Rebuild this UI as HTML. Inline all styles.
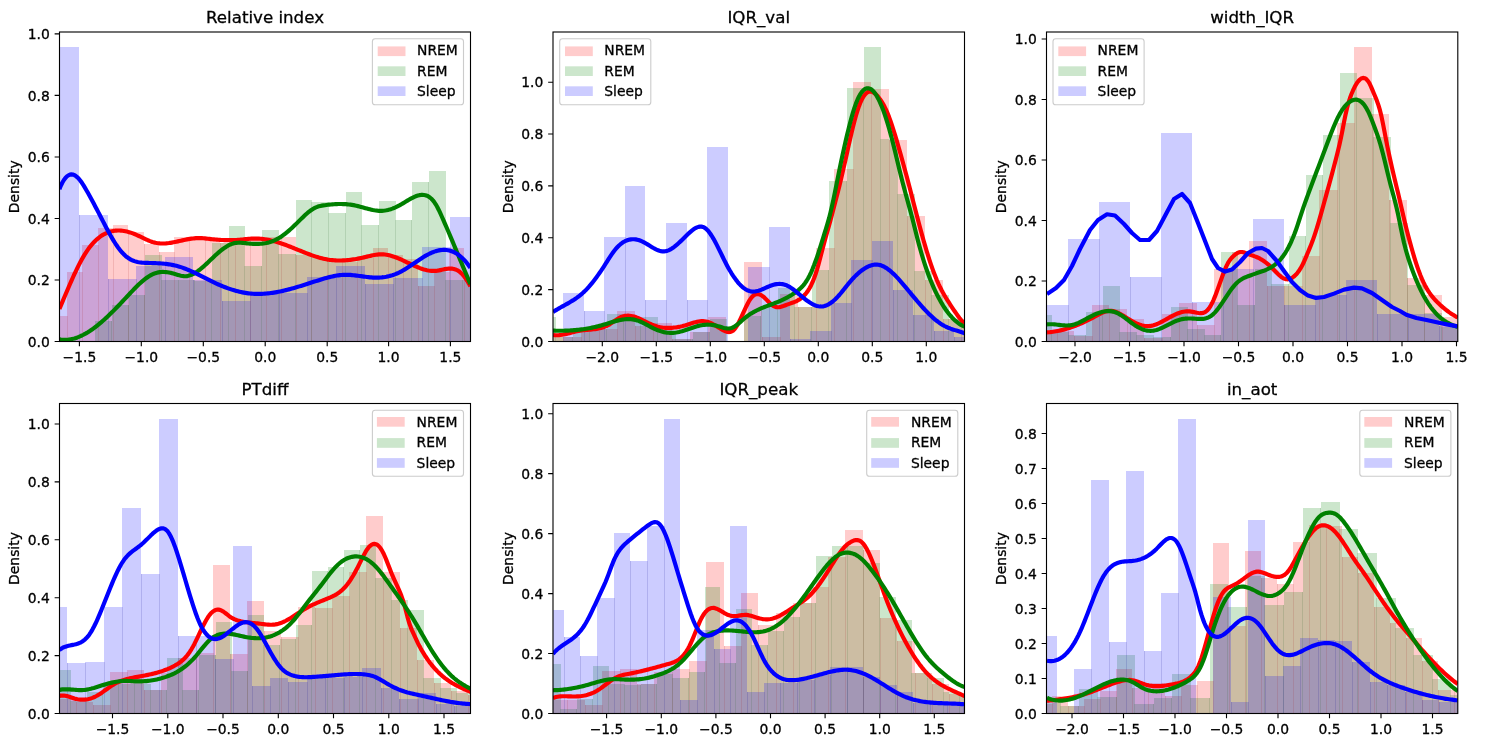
<!DOCTYPE html>
<html><head><meta charset="utf-8"><title>Density plots</title>
<style>html,body{margin:0;padding:0;background:#fff}svg{display:block}text{font-family:"DejaVu Sans","Liberation Sans",sans-serif;fill:#000;stroke:#000;stroke-width:0.3px}</style>
</head><body>
<svg width="1495" height="751" viewBox="0 0 1495 751">
<rect width="1495" height="751" fill="#fff"/>
<clipPath id="c1"><rect x="59.5" y="32" width="411" height="309.5"/></clipPath>
<g clip-path="url(#c1)">
<g fill="#ff0000" fill-opacity="0.2">
<rect x="52" y="316" width="15" height="27.5"/>
<rect x="67" y="272" width="15" height="71.5"/>
<rect x="82" y="245" width="16" height="98.5"/>
<rect x="98" y="228" width="15" height="115.5"/>
<rect x="113" y="225" width="15" height="118.5"/>
<rect x="128" y="232" width="16" height="111.5"/>
<rect x="144" y="244" width="15" height="99.5"/>
<rect x="159" y="252" width="15" height="91.5"/>
<rect x="174" y="237" width="15" height="106.5"/>
<rect x="189" y="237" width="16" height="106.5"/>
<rect x="205" y="240" width="15" height="103.5"/>
<rect x="220" y="243" width="15" height="100.5"/>
<rect x="235" y="238" width="15" height="105.5"/>
<rect x="250" y="240" width="16" height="103.5"/>
<rect x="266" y="237" width="15" height="106.5"/>
<rect x="281" y="237" width="15" height="106.5"/>
<rect x="296" y="255" width="15" height="88.5"/>
<rect x="311" y="257" width="16" height="86.5"/>
<rect x="327" y="261" width="15" height="82.5"/>
<rect x="342" y="262" width="15" height="81.5"/>
<rect x="357" y="258" width="16" height="85.5"/>
<rect x="373" y="248" width="15" height="95.5"/>
<rect x="388" y="255" width="15" height="88.5"/>
<rect x="403" y="259" width="15" height="84.5"/>
<rect x="418" y="286" width="16" height="57.5"/>
<rect x="434" y="272" width="15" height="71.5"/>
<rect x="449" y="248" width="15" height="95.5"/>
<rect x="464" y="280" width="15" height="63.5"/>
</g>
<g fill="#008000" fill-opacity="0.2">
<rect x="95" y="321" width="17" height="22.5"/>
<rect x="112" y="305" width="17" height="38.5"/>
<rect x="129" y="295" width="16" height="48.5"/>
<rect x="145" y="255" width="17" height="88.5"/>
<rect x="162" y="280" width="17" height="63.5"/>
<rect x="179" y="280" width="16" height="63.5"/>
<rect x="195" y="281" width="17" height="62.5"/>
<rect x="212" y="243" width="17" height="100.5"/>
<rect x="229" y="226" width="16" height="117.5"/>
<rect x="245" y="266" width="17" height="77.5"/>
<rect x="262" y="230" width="17" height="113.5"/>
<rect x="279" y="254" width="17" height="89.5"/>
<rect x="296" y="200" width="16" height="143.5"/>
<rect x="312" y="202" width="17" height="141.5"/>
<rect x="329" y="213" width="17" height="130.5"/>
<rect x="346" y="192" width="16" height="151.5"/>
<rect x="362" y="225" width="17" height="118.5"/>
<rect x="379" y="201" width="17" height="142.5"/>
<rect x="396" y="220" width="16" height="123.5"/>
<rect x="412" y="182" width="17" height="161.5"/>
<rect x="429" y="171" width="17" height="172.5"/>
<rect x="446" y="280" width="17" height="63.5"/>
<rect x="463" y="280" width="16" height="63.5"/>
</g>
<g fill="#0000ff" fill-opacity="0.2">
<rect x="51" y="47" width="28" height="296.5"/>
<rect x="79" y="215" width="29" height="128.5"/>
<rect x="108" y="279" width="28" height="64.5"/>
<rect x="136" y="266" width="29" height="77.5"/>
<rect x="165" y="257" width="28" height="86.5"/>
<rect x="193" y="280" width="29" height="63.5"/>
<rect x="222" y="301" width="28" height="42.5"/>
<rect x="250" y="293" width="29" height="50.5"/>
<rect x="279" y="293" width="28" height="50.5"/>
<rect x="307" y="277" width="29" height="66.5"/>
<rect x="336" y="266" width="29" height="77.5"/>
<rect x="365" y="284" width="28" height="59.5"/>
<rect x="393" y="278" width="29" height="65.5"/>
<rect x="422" y="247" width="28" height="96.5"/>
<rect x="450" y="217" width="29" height="126.5"/>
</g>
<g fill="#a62626" fill-opacity="0.15"><rect x="67" y="316" width="1" height="27.5"/><rect x="82" y="272" width="1" height="71.5"/><rect x="98" y="245" width="1" height="98.5"/><rect x="113" y="228" width="1" height="115.5"/><rect x="128" y="232" width="1" height="111.5"/><rect x="144" y="244" width="1" height="99.5"/><rect x="159" y="252" width="1" height="91.5"/><rect x="174" y="252" width="1" height="91.5"/><rect x="189" y="237" width="1" height="106.5"/><rect x="205" y="240" width="1" height="103.5"/><rect x="220" y="243" width="1" height="100.5"/><rect x="235" y="243" width="1" height="100.5"/><rect x="250" y="240" width="1" height="103.5"/><rect x="266" y="240" width="1" height="103.5"/><rect x="281" y="237" width="1" height="106.5"/><rect x="296" y="255" width="1" height="88.5"/><rect x="311" y="257" width="1" height="86.5"/><rect x="327" y="261" width="1" height="82.5"/><rect x="342" y="262" width="1" height="81.5"/><rect x="357" y="262" width="1" height="81.5"/><rect x="373" y="258" width="1" height="85.5"/><rect x="388" y="255" width="1" height="88.5"/><rect x="403" y="259" width="1" height="84.5"/><rect x="418" y="286" width="1" height="57.5"/><rect x="434" y="286" width="1" height="57.5"/><rect x="449" y="272" width="1" height="71.5"/><rect x="464" y="280" width="1" height="63.5"/></g>
<g fill="#256525" fill-opacity="0.15"><rect x="111" y="321" width="1" height="22.5"/><rect x="128" y="305" width="1" height="38.5"/><rect x="144" y="295" width="1" height="48.5"/><rect x="161" y="280" width="1" height="63.5"/><rect x="178" y="280" width="1" height="63.5"/><rect x="194" y="281" width="1" height="62.5"/><rect x="211" y="281" width="1" height="62.5"/><rect x="228" y="243" width="1" height="100.5"/><rect x="244" y="266" width="1" height="77.5"/><rect x="261" y="266" width="1" height="77.5"/><rect x="278" y="254" width="1" height="89.5"/><rect x="295" y="254" width="1" height="89.5"/><rect x="311" y="202" width="1" height="141.5"/><rect x="328" y="213" width="1" height="130.5"/><rect x="345" y="213" width="1" height="130.5"/><rect x="361" y="225" width="1" height="118.5"/><rect x="378" y="225" width="1" height="118.5"/><rect x="395" y="220" width="1" height="123.5"/><rect x="411" y="220" width="1" height="123.5"/><rect x="428" y="182" width="1" height="161.5"/><rect x="445" y="280" width="1" height="63.5"/><rect x="462" y="280" width="1" height="63.5"/></g>
<g fill="#0f0f8e" fill-opacity="0.15"><rect x="79" y="215" width="1" height="128.5"/><rect x="108" y="279" width="1" height="64.5"/><rect x="136" y="279" width="1" height="64.5"/><rect x="165" y="266" width="1" height="77.5"/><rect x="193" y="280" width="1" height="63.5"/><rect x="222" y="301" width="1" height="42.5"/><rect x="250" y="301" width="1" height="42.5"/><rect x="279" y="293" width="1" height="50.5"/><rect x="307" y="293" width="1" height="50.5"/><rect x="336" y="277" width="1" height="66.5"/><rect x="365" y="284" width="1" height="59.5"/><rect x="393" y="284" width="1" height="59.5"/><rect x="422" y="278" width="1" height="65.5"/><rect x="450" y="247" width="1" height="96.5"/></g>
<path d="M59.4 309.03 L60.9 305.46 L62.4 301.88 L63.9 298.31 L65.4 294.75 L66.9 291.22 L68.4 287.71 L69.9 284.25 L71.4 280.84 L72.9 277.5 L74.4 274.22 L75.9 271.03 L77.4 267.93 L78.9 264.94 L80.4 262.05 L81.9 259.29 L83.4 256.65 L84.9 254.16 L86.4 251.82 L87.9 249.62 L89.4 247.57 L90.9 245.66 L92.4 243.88 L93.9 242.23 L95.4 240.72 L96.9 239.32 L98.4 238.04 L99.9 236.88 L101.4 235.83 L102.9 234.88 L104.4 234.03 L105.9 233.29 L107.4 232.64 L108.9 232.08 L110.4 231.61 L111.9 231.22 L113.4 230.92 L114.9 230.7 L116.4 230.56 L117.9 230.5 L119.4 230.51 L120.9 230.58 L122.4 230.73 L123.9 230.94 L125.4 231.21 L126.9 231.55 L128.4 231.93 L129.9 232.38 L131.4 232.87 L132.9 233.41 L134.4 234 L135.9 234.63 L137.4 235.3 L138.9 236 L140.4 236.71 L141.9 237.43 L143.4 238.15 L144.9 238.86 L146.4 239.55 L147.9 240.21 L149.4 240.83 L150.9 241.41 L152.4 241.92 L153.9 242.37 L155.4 242.75 L156.9 243.04 L158.4 243.26 L159.9 243.4 L161.4 243.48 L162.9 243.5 L164.4 243.46 L165.9 243.37 L167.4 243.23 L168.9 243.05 L170.4 242.83 L171.9 242.58 L173.4 242.31 L174.9 242.01 L176.4 241.69 L177.9 241.36 L179.4 241.03 L180.9 240.69 L182.4 240.35 L183.9 240.02 L185.4 239.7 L186.9 239.4 L188.4 239.13 L189.9 238.88 L191.4 238.65 L192.9 238.46 L194.4 238.31 L195.9 238.19 L197.4 238.12 L198.9 238.1 L200.4 238.12 L201.9 238.19 L203.4 238.29 L204.9 238.43 L206.4 238.58 L207.9 238.74 L209.4 238.91 L210.9 239.08 L212.4 239.24 L213.9 239.39 L215.4 239.53 L216.9 239.65 L218.4 239.77 L219.9 239.87 L221.4 239.96 L222.9 240.03 L224.4 240.09 L225.9 240.13 L227.4 240.16 L228.9 240.17 L230.4 240.17 L231.9 240.15 L233.4 240.11 L234.9 240.05 L236.4 239.97 L237.9 239.87 L239.4 239.76 L240.9 239.62 L242.4 239.47 L243.9 239.32 L245.4 239.16 L246.9 239.01 L248.4 238.87 L249.9 238.75 L251.4 238.65 L252.9 238.59 L254.4 238.56 L255.9 238.56 L257.4 238.6 L258.9 238.67 L260.4 238.78 L261.9 238.92 L263.4 239.1 L264.9 239.3 L266.4 239.54 L267.9 239.81 L269.4 240.1 L270.9 240.43 L272.4 240.79 L273.9 241.17 L275.4 241.58 L276.9 242.01 L278.4 242.47 L279.9 242.95 L281.4 243.45 L282.9 243.97 L284.4 244.51 L285.9 245.06 L287.4 245.63 L288.9 246.21 L290.4 246.79 L291.9 247.39 L293.4 247.99 L294.9 248.6 L296.4 249.21 L297.9 249.82 L299.4 250.43 L300.9 251.04 L302.4 251.65 L303.9 252.24 L305.4 252.84 L306.9 253.42 L308.4 253.99 L309.9 254.54 L311.4 255.09 L312.9 255.61 L314.4 256.12 L315.9 256.61 L317.4 257.07 L318.9 257.52 L320.4 257.93 L321.9 258.32 L323.4 258.68 L324.9 259.01 L326.4 259.31 L327.9 259.58 L329.4 259.81 L330.9 260 L332.4 260.16 L333.9 260.29 L335.4 260.39 L336.9 260.46 L338.4 260.5 L339.9 260.51 L341.4 260.5 L342.9 260.45 L344.4 260.38 L345.9 260.28 L347.4 260.16 L348.9 260.01 L350.4 259.84 L351.9 259.65 L353.4 259.43 L354.9 259.19 L356.4 258.94 L357.9 258.66 L359.4 258.36 L360.9 258.05 L362.4 257.72 L363.9 257.37 L365.4 257.01 L366.9 256.65 L368.4 256.29 L369.9 255.94 L371.4 255.6 L372.9 255.29 L374.4 255.01 L375.9 254.77 L377.4 254.57 L378.9 254.42 L380.4 254.34 L381.9 254.32 L383.4 254.37 L384.9 254.5 L386.4 254.71 L387.9 254.98 L389.4 255.31 L390.9 255.71 L392.4 256.16 L393.9 256.65 L395.4 257.19 L396.9 257.77 L398.4 258.38 L399.9 259.03 L401.4 259.7 L402.9 260.38 L404.4 261.09 L405.9 261.8 L407.4 262.52 L408.9 263.24 L410.4 263.95 L411.9 264.66 L413.4 265.35 L414.9 266.03 L416.4 266.68 L417.9 267.3 L419.4 267.89 L420.9 268.44 L422.4 268.95 L423.9 269.42 L425.4 269.83 L426.9 270.18 L428.4 270.47 L429.9 270.7 L431.4 270.85 L432.9 270.93 L434.4 270.92 L435.9 270.83 L437.4 270.65 L438.9 270.41 L440.4 270.11 L441.9 269.79 L443.4 269.47 L444.9 269.16 L446.4 268.9 L447.9 268.69 L449.4 268.58 L450.9 268.57 L452.4 268.69 L453.9 268.97 L455.4 269.41 L456.9 270.06 L458.4 270.92 L459.9 272.02 L461.4 273.35 L462.9 274.92 L464.4 276.73 L465.9 278.77 L467.4 281.05 L468.9 283.57 L470.4 286.32" fill="none" stroke="#ff0000" stroke-width="4.17" stroke-linejoin="round" stroke-linecap="butt"/>
<path d="M59.4 339.34 L60.9 339.57 L62.4 339.73 L63.9 339.81 L65.4 339.82 L66.9 339.75 L68.4 339.62 L69.9 339.41 L71.4 339.14 L72.9 338.81 L74.4 338.41 L75.9 337.94 L77.4 337.42 L78.9 336.84 L80.4 336.2 L81.9 335.5 L83.4 334.75 L84.9 333.95 L86.4 333.09 L87.9 332.19 L89.4 331.24 L90.9 330.24 L92.4 329.2 L93.9 328.11 L95.4 326.99 L96.9 325.82 L98.4 324.62 L99.9 323.38 L101.4 322.11 L102.9 320.8 L104.4 319.46 L105.9 318.09 L107.4 316.7 L108.9 315.27 L110.4 313.82 L111.9 312.35 L113.4 310.86 L114.9 309.35 L116.4 307.81 L117.9 306.27 L119.4 304.7 L120.9 303.13 L122.4 301.54 L123.9 299.94 L125.4 298.33 L126.9 296.72 L128.4 295.11 L129.9 293.5 L131.4 291.91 L132.9 290.33 L134.4 288.78 L135.9 287.26 L137.4 285.78 L138.9 284.34 L140.4 282.96 L141.9 281.62 L143.4 280.35 L144.9 279.15 L146.4 278.02 L147.9 276.97 L149.4 276.01 L150.9 275.14 L152.4 274.37 L153.9 273.7 L155.4 273.15 L156.9 272.7 L158.4 272.37 L159.9 272.13 L161.4 271.99 L162.9 271.94 L164.4 271.98 L165.9 272.08 L167.4 272.26 L168.9 272.5 L170.4 272.8 L171.9 273.15 L173.4 273.54 L174.9 273.97 L176.4 274.43 L177.9 274.89 L179.4 275.33 L180.9 275.71 L182.4 276 L183.9 276.18 L185.4 276.21 L186.9 276.08 L188.4 275.8 L189.9 275.37 L191.4 274.8 L192.9 274.11 L194.4 273.3 L195.9 272.39 L197.4 271.38 L198.9 270.28 L200.4 269.11 L201.9 267.87 L203.4 266.58 L204.9 265.24 L206.4 263.86 L207.9 262.45 L209.4 261.03 L210.9 259.6 L212.4 258.17 L213.9 256.75 L215.4 255.35 L216.9 253.99 L218.4 252.67 L219.9 251.39 L221.4 250.17 L222.9 249.01 L224.4 247.93 L225.9 246.93 L227.4 246.01 L228.9 245.19 L230.4 244.47 L231.9 243.87 L233.4 243.39 L234.9 243.03 L236.4 242.81 L237.9 242.71 L239.4 242.7 L240.9 242.77 L242.4 242.89 L243.9 243.03 L245.4 243.19 L246.9 243.35 L248.4 243.49 L249.9 243.61 L251.4 243.72 L252.9 243.81 L254.4 243.87 L255.9 243.9 L257.4 243.9 L258.9 243.86 L260.4 243.78 L261.9 243.66 L263.4 243.48 L264.9 243.26 L266.4 242.98 L267.9 242.64 L269.4 242.24 L270.9 241.78 L272.4 241.24 L273.9 240.63 L275.4 239.94 L276.9 239.17 L278.4 238.33 L279.9 237.42 L281.4 236.43 L282.9 235.38 L284.4 234.28 L285.9 233.11 L287.4 231.89 L288.9 230.61 L290.4 229.29 L291.9 227.93 L293.4 226.53 L294.9 225.09 L296.4 223.62 L297.9 222.13 L299.4 220.63 L300.9 219.13 L302.4 217.66 L303.9 216.22 L305.4 214.82 L306.9 213.48 L308.4 212.22 L309.9 211.03 L311.4 209.95 L312.9 208.97 L314.4 208.12 L315.9 207.41 L317.4 206.82 L318.9 206.35 L320.4 205.97 L321.9 205.66 L323.4 205.41 L324.9 205.19 L326.4 204.99 L327.9 204.8 L329.4 204.63 L330.9 204.48 L332.4 204.35 L333.9 204.24 L335.4 204.15 L336.9 204.08 L338.4 204.03 L339.9 204.01 L341.4 204.01 L342.9 204.05 L344.4 204.11 L345.9 204.2 L347.4 204.32 L348.9 204.47 L350.4 204.65 L351.9 204.87 L353.4 205.13 L354.9 205.42 L356.4 205.75 L357.9 206.11 L359.4 206.49 L360.9 206.9 L362.4 207.31 L363.9 207.74 L365.4 208.16 L366.9 208.57 L368.4 208.97 L369.9 209.34 L371.4 209.69 L372.9 210.01 L374.4 210.28 L375.9 210.51 L377.4 210.69 L378.9 210.8 L380.4 210.85 L381.9 210.82 L383.4 210.72 L384.9 210.54 L386.4 210.3 L387.9 209.98 L389.4 209.6 L390.9 209.15 L392.4 208.63 L393.9 208.06 L395.4 207.42 L396.9 206.73 L398.4 205.97 L399.9 205.17 L401.4 204.31 L402.9 203.41 L404.4 202.49 L405.9 201.56 L407.4 200.64 L408.9 199.73 L410.4 198.86 L411.9 198.03 L413.4 197.28 L414.9 196.59 L416.4 196 L417.9 195.52 L419.4 195.16 L420.9 194.94 L422.4 194.87 L423.9 194.97 L425.4 195.25 L426.9 195.74 L428.4 196.48 L429.9 197.47 L431.4 198.75 L432.9 200.35 L434.4 202.28 L435.9 204.57 L437.4 207.24 L438.9 210.21 L440.4 213.41 L441.9 216.74 L443.4 220.13 L444.9 223.56 L446.4 227.03 L447.9 230.52 L449.4 234.05 L450.9 237.59 L452.4 241.16 L453.9 244.74 L455.4 248.34 L456.9 251.94 L458.4 255.54 L459.9 259.15 L461.4 262.75 L462.9 266.34 L464.4 269.93 L465.9 273.49 L467.4 277.04 L468.9 280.57 L470.4 284.06" fill="none" stroke="#008000" stroke-width="4.17" stroke-linejoin="round" stroke-linecap="butt"/>
<path d="M59.4 189.07 L60.9 185.52 L62.4 182.5 L63.9 179.99 L65.4 177.96 L66.9 176.41 L68.4 175.31 L69.9 174.66 L71.4 174.42 L72.9 174.58 L74.4 175.13 L75.9 176.05 L77.4 177.31 L78.9 178.89 L80.4 180.75 L81.9 182.84 L83.4 185.14 L84.9 187.6 L86.4 190.18 L87.9 192.85 L89.4 195.57 L90.9 198.31 L92.4 201.07 L93.9 203.86 L95.4 206.67 L96.9 209.51 L98.4 212.37 L99.9 215.26 L101.4 218.18 L102.9 221.12 L104.4 224.06 L105.9 226.96 L107.4 229.81 L108.9 232.59 L110.4 235.28 L111.9 237.87 L113.4 240.37 L114.9 242.76 L116.4 245.04 L117.9 247.19 L119.4 249.2 L120.9 251.08 L122.4 252.81 L123.9 254.38 L125.4 255.79 L126.9 257.03 L128.4 258.12 L129.9 259.06 L131.4 259.87 L132.9 260.56 L134.4 261.13 L135.9 261.6 L137.4 261.97 L138.9 262.27 L140.4 262.5 L141.9 262.66 L143.4 262.78 L144.9 262.86 L146.4 262.92 L147.9 262.95 L149.4 262.99 L150.9 263.02 L152.4 263.06 L153.9 263.11 L155.4 263.16 L156.9 263.23 L158.4 263.3 L159.9 263.39 L161.4 263.5 L162.9 263.62 L164.4 263.77 L165.9 263.93 L167.4 264.12 L168.9 264.33 L170.4 264.56 L171.9 264.83 L173.4 265.13 L174.9 265.46 L176.4 265.82 L177.9 266.21 L179.4 266.65 L180.9 267.12 L182.4 267.63 L183.9 268.17 L185.4 268.74 L186.9 269.34 L188.4 269.97 L189.9 270.62 L191.4 271.3 L192.9 271.99 L194.4 272.7 L195.9 273.43 L197.4 274.16 L198.9 274.91 L200.4 275.67 L201.9 276.43 L203.4 277.19 L204.9 277.96 L206.4 278.72 L207.9 279.48 L209.4 280.23 L210.9 280.98 L212.4 281.71 L213.9 282.43 L215.4 283.14 L216.9 283.83 L218.4 284.5 L219.9 285.15 L221.4 285.78 L222.9 286.4 L224.4 286.99 L225.9 287.56 L227.4 288.11 L228.9 288.64 L230.4 289.15 L231.9 289.64 L233.4 290.1 L234.9 290.54 L236.4 290.95 L237.9 291.34 L239.4 291.71 L240.9 292.05 L242.4 292.36 L243.9 292.64 L245.4 292.9 L246.9 293.13 L248.4 293.33 L249.9 293.5 L251.4 293.64 L252.9 293.76 L254.4 293.84 L255.9 293.89 L257.4 293.92 L258.9 293.92 L260.4 293.89 L261.9 293.84 L263.4 293.77 L264.9 293.67 L266.4 293.54 L267.9 293.4 L269.4 293.23 L270.9 293.04 L272.4 292.83 L273.9 292.6 L275.4 292.35 L276.9 292.08 L278.4 291.8 L279.9 291.5 L281.4 291.18 L282.9 290.85 L284.4 290.5 L285.9 290.14 L287.4 289.76 L288.9 289.38 L290.4 288.98 L291.9 288.57 L293.4 288.15 L294.9 287.72 L296.4 287.28 L297.9 286.84 L299.4 286.38 L300.9 285.92 L302.4 285.46 L303.9 284.99 L305.4 284.51 L306.9 284.03 L308.4 283.55 L309.9 283.07 L311.4 282.58 L312.9 282.09 L314.4 281.61 L315.9 281.12 L317.4 280.64 L318.9 280.16 L320.4 279.68 L321.9 279.22 L323.4 278.77 L324.9 278.33 L326.4 277.9 L327.9 277.5 L329.4 277.11 L330.9 276.75 L332.4 276.41 L333.9 276.09 L335.4 275.81 L336.9 275.55 L338.4 275.33 L339.9 275.14 L341.4 274.99 L342.9 274.88 L344.4 274.81 L345.9 274.79 L347.4 274.81 L348.9 274.86 L350.4 274.95 L351.9 275.07 L353.4 275.22 L354.9 275.38 L356.4 275.57 L357.9 275.77 L359.4 275.97 L360.9 276.18 L362.4 276.39 L363.9 276.6 L365.4 276.8 L366.9 276.99 L368.4 277.17 L369.9 277.32 L371.4 277.45 L372.9 277.55 L374.4 277.61 L375.9 277.64 L377.4 277.64 L378.9 277.59 L380.4 277.5 L381.9 277.37 L383.4 277.19 L384.9 276.97 L386.4 276.71 L387.9 276.39 L389.4 276.03 L390.9 275.63 L392.4 275.17 L393.9 274.66 L395.4 274.1 L396.9 273.48 L398.4 272.81 L399.9 272.09 L401.4 271.31 L402.9 270.48 L404.4 269.61 L405.9 268.69 L407.4 267.75 L408.9 266.77 L410.4 265.77 L411.9 264.76 L413.4 263.74 L414.9 262.71 L416.4 261.69 L417.9 260.67 L419.4 259.66 L420.9 258.68 L422.4 257.72 L423.9 256.79 L425.4 255.89 L426.9 255.04 L428.4 254.24 L429.9 253.49 L431.4 252.8 L432.9 252.18 L434.4 251.62 L435.9 251.13 L437.4 250.72 L438.9 250.38 L440.4 250.13 L441.9 249.97 L443.4 249.89 L444.9 249.9 L446.4 250.02 L447.9 250.23 L449.4 250.55 L450.9 250.97 L452.4 251.5 L453.9 252.15 L455.4 252.92 L456.9 253.81 L458.4 254.83 L459.9 255.97 L461.4 257.25 L462.9 258.67 L464.4 260.22 L465.9 261.92 L467.4 263.77 L468.9 265.76 L470.4 267.92" fill="none" stroke="#0000ff" stroke-width="4.17" stroke-linejoin="round" stroke-linecap="butt"/>
</g>
<rect x="59.5" y="32" width="411" height="309.5" fill="none" stroke="#000" stroke-width="1.11"/>
<path d="M79.4 341.5 v4.86 M141.3 341.5 v4.86 M203.3 341.5 v4.86 M265.2 341.5 v4.86 M327.2 341.5 v4.86 M388.6 341.5 v4.86 M450.4 341.5 v4.86 M59.5 341.5 h-4.86 M59.5 279.98 h-4.86 M59.5 218.46 h-4.86 M59.5 156.94 h-4.86 M59.5 95.42 h-4.86 M59.5 33.9 h-4.86" stroke="#000" stroke-width="1.11" fill="none"/>
<g font-size="13.89" text-anchor="middle">
<text x="79.4" y="361.9">−1.5</text>
<text x="141.3" y="361.9">−1.0</text>
<text x="203.3" y="361.9">−0.5</text>
<text x="265.2" y="361.9">0.0</text>
<text x="327.2" y="361.9">0.5</text>
<text x="388.6" y="361.9">1.0</text>
<text x="450.4" y="361.9">1.5</text>
</g>
<g font-size="13.89" text-anchor="end">
<text x="49.78" y="346.6">0.0</text>
<text x="49.78" y="285.08">0.2</text>
<text x="49.78" y="223.56">0.4</text>
<text x="49.78" y="162.04">0.6</text>
<text x="49.78" y="100.52">0.8</text>
<text x="49.78" y="39">1.0</text>
</g>
<text font-size="13.89" text-anchor="middle" transform="translate(19 186.75) rotate(-90)">Density</text>
<text font-size="16.67" text-anchor="middle" x="265" y="23.4">Relative index</text>
<rect x="372.4" y="38.8" width="91.1" height="65.9" rx="2.8" fill="#fff" fill-opacity="0.8" stroke="#ccc" stroke-width="1.11"/>
<rect x="377.7" y="46.4" width="27.8" height="9.7" fill="#ff0000" fill-opacity="0.2"/>
<text font-size="13.89" x="417" y="54.7">NREM</text>
<rect x="377.7" y="66.3" width="27.8" height="9.7" fill="#008000" fill-opacity="0.2"/>
<text font-size="13.89" x="417" y="75.5">REM</text>
<rect x="377.7" y="86.3" width="27.8" height="9.7" fill="#0000ff" fill-opacity="0.2"/>
<text font-size="13.89" x="417" y="95.6">Sleep</text>
<clipPath id="c2"><rect x="553" y="32" width="411.5" height="309.5"/></clipPath>
<g clip-path="url(#c2)">
<g fill="#ff0000" fill-opacity="0.2">
<rect x="545" y="335" width="18" height="8.5"/>
<rect x="563" y="337" width="18" height="6.5"/>
<rect x="581" y="331" width="18" height="12.5"/>
<rect x="599" y="329" width="18" height="14.5"/>
<rect x="617" y="311" width="18" height="32.5"/>
<rect x="635" y="326" width="18" height="17.5"/>
<rect x="653" y="323" width="19" height="20.5"/>
<rect x="672" y="339" width="18" height="4.5"/>
<rect x="690" y="332" width="18" height="11.5"/>
<rect x="708" y="317" width="18" height="26.5"/>
<rect x="744" y="262" width="18" height="81.5"/>
<rect x="762" y="337" width="18" height="6.5"/>
<rect x="780" y="294" width="18" height="49.5"/>
<rect x="798" y="307" width="18" height="36.5"/>
<rect x="816" y="248" width="18" height="95.5"/>
<rect x="834" y="169" width="19" height="174.5"/>
<rect x="853" y="82" width="18" height="261.5"/>
<rect x="871" y="89" width="18" height="254.5"/>
<rect x="889" y="140" width="18" height="203.5"/>
<rect x="907" y="216" width="18" height="127.5"/>
<rect x="925" y="280" width="18" height="63.5"/>
<rect x="943" y="319" width="18" height="24.5"/>
<rect x="961" y="326" width="18" height="17.5"/>
</g>
<g fill="#008000" fill-opacity="0.2">
<rect x="539" y="317" width="17" height="26.5"/>
<rect x="556" y="337" width="17" height="6.5"/>
<rect x="573" y="331" width="17" height="12.5"/>
<rect x="590" y="329" width="17" height="14.5"/>
<rect x="607" y="314" width="17" height="29.5"/>
<rect x="624" y="318" width="17" height="25.5"/>
<rect x="641" y="317" width="17" height="26.5"/>
<rect x="658" y="331" width="18" height="12.5"/>
<rect x="676" y="339" width="17" height="4.5"/>
<rect x="693" y="332" width="17" height="11.5"/>
<rect x="710" y="319" width="17" height="24.5"/>
<rect x="744" y="316" width="17" height="27.5"/>
<rect x="761" y="307" width="17" height="36.5"/>
<rect x="778" y="288" width="17" height="55.5"/>
<rect x="795" y="307" width="17" height="36.5"/>
<rect x="812" y="270" width="17" height="73.5"/>
<rect x="829" y="181" width="18" height="162.5"/>
<rect x="847" y="88" width="17" height="255.5"/>
<rect x="864" y="47" width="17" height="296.5"/>
<rect x="881" y="139" width="17" height="204.5"/>
<rect x="898" y="194" width="17" height="149.5"/>
<rect x="915" y="271" width="17" height="72.5"/>
<rect x="932" y="295" width="17" height="48.5"/>
<rect x="949" y="319" width="17" height="24.5"/>
</g>
<g fill="#0000ff" fill-opacity="0.2">
<rect x="563" y="293" width="21" height="50.5"/>
<rect x="584" y="311" width="20" height="32.5"/>
<rect x="604" y="237" width="21" height="106.5"/>
<rect x="625" y="186" width="20" height="157.5"/>
<rect x="645" y="300" width="21" height="43.5"/>
<rect x="666" y="223" width="21" height="120.5"/>
<rect x="687" y="300" width="20" height="43.5"/>
<rect x="707" y="147" width="21" height="196.5"/>
<rect x="748" y="267" width="21" height="76.5"/>
<rect x="769" y="227" width="21" height="116.5"/>
<rect x="790" y="339" width="20" height="4.5"/>
<rect x="810" y="331" width="21" height="12.5"/>
<rect x="831" y="303" width="20" height="40.5"/>
<rect x="851" y="260" width="21" height="83.5"/>
<rect x="872" y="241" width="21" height="102.5"/>
<rect x="893" y="290" width="20" height="53.5"/>
<rect x="913" y="315" width="21" height="28.5"/>
<rect x="934" y="331" width="20" height="12.5"/>
<rect x="954" y="337" width="21" height="6.5"/>
</g>
<g fill="#a62626" fill-opacity="0.15"><rect x="563" y="337" width="1" height="6.5"/><rect x="581" y="337" width="1" height="6.5"/><rect x="599" y="331" width="1" height="12.5"/><rect x="617" y="329" width="1" height="14.5"/><rect x="635" y="326" width="1" height="17.5"/><rect x="653" y="326" width="1" height="17.5"/><rect x="672" y="339" width="1" height="4.5"/><rect x="690" y="339" width="1" height="4.5"/><rect x="708" y="332" width="1" height="11.5"/><rect x="762" y="337" width="1" height="6.5"/><rect x="780" y="337" width="1" height="6.5"/><rect x="798" y="307" width="1" height="36.5"/><rect x="816" y="307" width="1" height="36.5"/><rect x="834" y="248" width="1" height="95.5"/><rect x="853" y="169" width="1" height="174.5"/><rect x="871" y="89" width="1" height="254.5"/><rect x="889" y="140" width="1" height="203.5"/><rect x="907" y="216" width="1" height="127.5"/><rect x="925" y="280" width="1" height="63.5"/><rect x="943" y="319" width="1" height="24.5"/><rect x="961" y="326" width="1" height="17.5"/></g>
<g fill="#256525" fill-opacity="0.15"><rect x="555" y="337" width="1" height="6.5"/><rect x="572" y="337" width="1" height="6.5"/><rect x="589" y="331" width="1" height="12.5"/><rect x="606" y="329" width="1" height="14.5"/><rect x="623" y="318" width="1" height="25.5"/><rect x="640" y="318" width="1" height="25.5"/><rect x="657" y="331" width="1" height="12.5"/><rect x="675" y="339" width="1" height="4.5"/><rect x="692" y="339" width="1" height="4.5"/><rect x="709" y="332" width="1" height="11.5"/><rect x="760" y="316" width="1" height="27.5"/><rect x="777" y="307" width="1" height="36.5"/><rect x="794" y="307" width="1" height="36.5"/><rect x="811" y="307" width="1" height="36.5"/><rect x="828" y="270" width="1" height="73.5"/><rect x="846" y="181" width="1" height="162.5"/><rect x="863" y="88" width="1" height="255.5"/><rect x="880" y="139" width="1" height="204.5"/><rect x="897" y="194" width="1" height="149.5"/><rect x="914" y="271" width="1" height="72.5"/><rect x="931" y="295" width="1" height="48.5"/><rect x="948" y="319" width="1" height="24.5"/></g>
<g fill="#0f0f8e" fill-opacity="0.15"><rect x="584" y="311" width="1" height="32.5"/><rect x="604" y="311" width="1" height="32.5"/><rect x="625" y="237" width="1" height="106.5"/><rect x="645" y="300" width="1" height="43.5"/><rect x="666" y="300" width="1" height="43.5"/><rect x="687" y="300" width="1" height="43.5"/><rect x="707" y="300" width="1" height="43.5"/><rect x="769" y="267" width="1" height="76.5"/><rect x="790" y="339" width="1" height="4.5"/><rect x="810" y="339" width="1" height="4.5"/><rect x="831" y="331" width="1" height="12.5"/><rect x="851" y="303" width="1" height="40.5"/><rect x="872" y="260" width="1" height="83.5"/><rect x="893" y="290" width="1" height="53.5"/><rect x="913" y="315" width="1" height="28.5"/><rect x="934" y="331" width="1" height="12.5"/><rect x="954" y="337" width="1" height="6.5"/></g>
<path d="M553 334.99 L554.5 335.15 L556 335.22 L557.5 335.21 L559 335.12 L560.5 334.97 L562 334.76 L563.5 334.5 L565 334.19 L566.5 333.86 L568 333.5 L569.5 333.12 L571 332.73 L572.5 332.34 L574 331.96 L575.5 331.59 L577 331.24 L578.5 330.93 L580 330.65 L581.5 330.42 L583 330.23 L584.5 330.07 L586 329.93 L587.5 329.8 L589 329.68 L590.5 329.56 L592 329.43 L593.5 329.28 L595 329.1 L596.5 328.88 L598 328.63 L599.5 328.32 L601 327.95 L602.5 327.52 L604 327.01 L605.5 326.42 L607 325.74 L608.5 324.97 L610 324.1 L611.5 323.12 L613 322.07 L614.5 321 L616 319.95 L617.5 318.94 L619 318.04 L620.5 317.27 L622 316.66 L623.5 316.21 L625 315.9 L626.5 315.73 L628 315.69 L629.5 315.76 L631 315.95 L632.5 316.23 L634 316.61 L635.5 317.07 L637 317.61 L638.5 318.21 L640 318.86 L641.5 319.55 L643 320.28 L644.5 321.02 L646 321.77 L647.5 322.52 L649 323.26 L650.5 323.96 L652 324.63 L653.5 325.25 L655 325.82 L656.5 326.31 L658 326.72 L659.5 327.07 L661 327.34 L662.5 327.56 L664 327.72 L665.5 327.82 L667 327.88 L668.5 327.9 L670 327.87 L671.5 327.8 L673 327.69 L674.5 327.53 L676 327.34 L677.5 327.11 L679 326.84 L680.5 326.54 L682 326.2 L683.5 325.82 L685 325.41 L686.5 324.97 L688 324.5 L689.5 324.02 L691 323.53 L692.5 323.06 L694 322.61 L695.5 322.2 L697 321.84 L698.5 321.54 L700 321.32 L701.5 321.19 L703 321.16 L704.5 321.24 L706 321.46 L707.5 321.81 L709 322.31 L710.5 322.93 L712 323.65 L713.5 324.46 L715 325.32 L716.5 326.23 L718 327.16 L719.5 328.08 L721 328.99 L722.5 329.86 L724 330.66 L725.5 331.34 L727 331.82 L728.5 332.06 L730 331.98 L731.5 331.52 L733 330.62 L734.5 329.21 L736 327.26 L737.5 324.82 L739 322.01 L740.5 318.94 L742 315.69 L743.5 312.38 L745 309.1 L746.5 305.93 L748 302.98 L749.5 300.34 L751 298.09 L752.5 296.34 L754 295.11 L755.5 294.37 L757 294.07 L758.5 294.17 L760 294.63 L761.5 295.41 L763 296.45 L764.5 297.71 L766 299.15 L767.5 300.67 L769 302.19 L770.5 303.65 L772 304.94 L773.5 306.01 L775 306.75 L776.5 307.16 L778 307.27 L779.5 307.13 L781 306.81 L782.5 306.35 L784 305.8 L785.5 305.21 L787 304.64 L788.5 304.11 L790 303.6 L791.5 303.08 L793 302.54 L794.5 301.95 L796 301.29 L797.5 300.54 L799 299.67 L800.5 298.66 L802 297.48 L803.5 296.12 L805 294.55 L806.5 292.75 L808 290.66 L809.5 288.25 L811 285.46 L812.5 282.24 L814 278.55 L815.5 274.34 L817 269.57 L818.5 264.32 L820 258.73 L821.5 252.98 L823 247.21 L824.5 241.6 L826 236.23 L827.5 230.97 L829 225.64 L830.5 220.11 L832 214.4 L833.5 208.66 L835 202.95 L836.5 197.23 L838 191.41 L839.5 185.41 L841 179.22 L842.5 172.87 L844 166.35 L845.5 159.68 L847 152.93 L848.5 146.17 L850 139.51 L851.5 133.02 L853 126.8 L854.5 120.94 L856 115.51 L857.5 110.55 L859 106.13 L860.5 102.3 L862 99.09 L863.5 96.49 L865 94.47 L866.5 93 L868 92.05 L869.5 91.6 L871 91.61 L872.5 92.04 L874 92.86 L875.5 94.02 L877 95.48 L878.5 97.2 L880 99.15 L881.5 101.35 L883 103.81 L884.5 106.57 L886 109.65 L887.5 113.07 L889 116.85 L890.5 120.97 L892 125.38 L893.5 130.04 L895 134.9 L896.5 139.94 L898 145.1 L899.5 150.34 L901 155.64 L902.5 161.01 L904 166.45 L905.5 171.97 L907 177.58 L908.5 183.28 L910 189.04 L911.5 194.84 L913 200.67 L914.5 206.5 L916 212.31 L917.5 218.07 L919 223.76 L920.5 229.37 L922 234.86 L923.5 240.21 L925 245.42 L926.5 250.47 L928 255.35 L929.5 260.05 L931 264.56 L932.5 268.86 L934 272.96 L935.5 276.83 L937 280.47 L938.5 283.87 L940 287.04 L941.5 290.01 L943 292.81 L944.5 295.45 L946 297.97 L947.5 300.39 L949 302.73 L950.5 305.03 L952 307.3 L953.5 309.54 L955 311.75 L956.5 313.9 L958 315.97 L959.5 317.95 L961 319.81 L962.5 321.53 L964 323.1 L964.5 323.58" fill="none" stroke="#ff0000" stroke-width="4.17" stroke-linejoin="round" stroke-linecap="butt"/>
<path d="M553 330.64 L554.5 330.69 L556 330.72 L557.5 330.75 L559 330.76 L560.5 330.76 L562 330.75 L563.5 330.73 L565 330.69 L566.5 330.64 L568 330.58 L569.5 330.5 L571 330.42 L572.5 330.31 L574 330.2 L575.5 330.07 L577 329.92 L578.5 329.76 L580 329.59 L581.5 329.4 L583 329.19 L584.5 328.97 L586 328.74 L587.5 328.48 L589 328.22 L590.5 327.93 L592 327.63 L593.5 327.32 L595 326.98 L596.5 326.63 L598 326.26 L599.5 325.88 L601 325.47 L602.5 325.05 L604 324.61 L605.5 324.16 L607 323.7 L608.5 323.23 L610 322.76 L611.5 322.3 L613 321.85 L614.5 321.42 L616 321.01 L617.5 320.62 L619 320.27 L620.5 319.95 L622 319.68 L623.5 319.45 L625 319.27 L626.5 319.16 L628 319.1 L629.5 319.12 L631 319.2 L632.5 319.37 L634 319.61 L635.5 319.95 L637 320.38 L638.5 320.9 L640 321.49 L641.5 322.15 L643 322.86 L644.5 323.61 L646 324.4 L647.5 325.2 L649 326 L650.5 326.8 L652 327.58 L653.5 328.34 L655 329.05 L656.5 329.72 L658 330.32 L659.5 330.86 L661 331.34 L662.5 331.76 L664 332.11 L665.5 332.4 L667 332.62 L668.5 332.78 L670 332.86 L671.5 332.88 L673 332.83 L674.5 332.71 L676 332.51 L677.5 332.25 L679 331.94 L680.5 331.56 L682 331.15 L683.5 330.7 L685 330.22 L686.5 329.72 L688 329.21 L689.5 328.69 L691 328.17 L692.5 327.66 L694 327.18 L695.5 326.71 L697 326.28 L698.5 325.89 L700 325.55 L701.5 325.27 L703 325.04 L704.5 324.87 L706 324.75 L707.5 324.7 L709 324.71 L710.5 324.79 L712 324.93 L713.5 325.13 L715 325.4 L716.5 325.73 L718 326.14 L719.5 326.6 L721 327.07 L722.5 327.53 L724 327.93 L725.5 328.25 L727 328.44 L728.5 328.48 L730 328.33 L731.5 327.95 L733 327.33 L734.5 326.5 L736 325.5 L737.5 324.37 L739 323.14 L740.5 321.84 L742 320.52 L743.5 319.21 L745 317.94 L746.5 316.75 L748 315.63 L749.5 314.58 L751 313.6 L752.5 312.69 L754 311.83 L755.5 311.02 L757 310.26 L758.5 309.54 L760 308.86 L761.5 308.21 L763 307.59 L764.5 306.99 L766 306.41 L767.5 305.85 L769 305.29 L770.5 304.73 L772 304.18 L773.5 303.62 L775 303.05 L776.5 302.46 L778 301.85 L779.5 301.21 L781 300.55 L782.5 299.86 L784 299.14 L785.5 298.38 L787 297.59 L788.5 296.76 L790 295.9 L791.5 294.99 L793 294.03 L794.5 293.03 L796 291.98 L797.5 290.87 L799 289.66 L800.5 288.31 L802 286.8 L803.5 285.1 L805 283.17 L806.5 280.98 L808 278.49 L809.5 275.68 L811 272.54 L812.5 269.08 L814 265.34 L815.5 261.33 L817 257.08 L818.5 252.62 L820 247.96 L821.5 243.15 L823 238.26 L824.5 233.4 L826 228.61 L827.5 223.7 L829 218.41 L830.5 212.54 L832 206.08 L833.5 199.15 L835 191.89 L836.5 184.43 L838 176.91 L839.5 169.46 L841 162.21 L842.5 155.21 L844 148.43 L845.5 141.79 L847 135.34 L848.5 129.13 L850 123.2 L851.5 117.61 L853 112.42 L854.5 107.66 L856 103.4 L857.5 99.69 L859 96.51 L860.5 93.87 L862 91.75 L863.5 90.14 L865 89.02 L866.5 88.38 L868 88.21 L869.5 88.51 L871 89.24 L872.5 90.41 L874 92 L875.5 94 L877 96.39 L878.5 99.16 L880 102.31 L881.5 105.81 L883 109.66 L884.5 113.85 L886 118.35 L887.5 123.17 L889 128.28 L890.5 133.66 L892 139.3 L893.5 145.16 L895 151.22 L896.5 157.44 L898 163.7 L899.5 169.94 L901 176.05 L902.5 181.95 L904 187.64 L905.5 193.2 L907 198.68 L908.5 204.15 L910 209.67 L911.5 215.3 L913 221.09 L914.5 227 L916 232.98 L917.5 238.92 L919 244.63 L920.5 250.07 L922 255.24 L923.5 260.16 L925 264.83 L926.5 269.27 L928 273.48 L929.5 277.48 L931 281.28 L932.5 284.88 L934 288.3 L935.5 291.54 L937 294.62 L938.5 297.55 L940 300.32 L941.5 302.95 L943 305.43 L944.5 307.77 L946 309.97 L947.5 312.03 L949 313.96 L950.5 315.76 L952 317.43 L953.5 318.97 L955 320.39 L956.5 321.7 L958 322.88 L959.5 323.95 L961 324.9 L962.5 325.75 L964 326.49 L964.5 326.71" fill="none" stroke="#008000" stroke-width="4.17" stroke-linejoin="round" stroke-linecap="butt"/>
<path d="M553 312 L554.5 311.03 L556 310.11 L557.5 309.21 L559 308.34 L560.5 307.5 L562 306.66 L563.5 305.83 L565 305 L566.5 304.17 L568 303.32 L569.5 302.46 L571 301.57 L572.5 300.65 L574 299.69 L575.5 298.68 L577 297.63 L578.5 296.52 L580 295.35 L581.5 294.1 L583 292.79 L584.5 291.39 L586 289.9 L587.5 288.32 L589 286.66 L590.5 284.92 L592 283.11 L593.5 281.22 L595 279.26 L596.5 277.24 L598 275.15 L599.5 273.01 L601 270.82 L602.5 268.57 L604 266.28 L605.5 263.95 L607 261.59 L608.5 259.23 L610 256.92 L611.5 254.67 L613 252.53 L614.5 250.52 L616 248.68 L617.5 247.01 L619 245.52 L620.5 244.2 L622 243.05 L623.5 242.05 L625 241.21 L626.5 240.53 L628 239.99 L629.5 239.59 L631 239.34 L632.5 239.22 L634 239.24 L635.5 239.38 L637 239.65 L638.5 240.03 L640 240.53 L641.5 241.15 L643 241.86 L644.5 242.65 L646 243.51 L647.5 244.41 L649 245.33 L650.5 246.25 L652 247.16 L653.5 248.03 L655 248.84 L656.5 249.57 L658 250.21 L659.5 250.73 L661 251.12 L662.5 251.34 L664 251.39 L665.5 251.25 L667 250.9 L668.5 250.37 L670 249.66 L671.5 248.8 L673 247.81 L674.5 246.69 L676 245.48 L677.5 244.17 L679 242.8 L680.5 241.37 L682 239.91 L683.5 238.43 L685 236.95 L686.5 235.48 L688 234.04 L689.5 232.65 L691 231.33 L692.5 230.11 L694 229.03 L695.5 228.1 L697 227.37 L698.5 226.86 L700 226.61 L701.5 226.64 L703 226.98 L704.5 227.68 L706 228.75 L707.5 230.18 L709 231.94 L710.5 233.99 L712 236.29 L713.5 238.82 L715 241.52 L716.5 244.38 L718 247.34 L719.5 250.38 L721 253.46 L722.5 256.53 L724 259.58 L725.5 262.55 L727 265.42 L728.5 268.16 L730 270.78 L731.5 273.27 L733 275.62 L734.5 277.83 L736 279.89 L737.5 281.8 L739 283.56 L740.5 285.16 L742 286.58 L743.5 287.84 L745 288.93 L746.5 289.83 L748 290.55 L749.5 291.08 L751 291.41 L752.5 291.56 L754 291.54 L755.5 291.38 L757 291.08 L758.5 290.67 L760 290.18 L761.5 289.61 L763 288.98 L764.5 288.33 L766 287.66 L767.5 286.99 L769 286.35 L770.5 285.75 L772 285.21 L773.5 284.75 L775 284.39 L776.5 284.12 L778 283.96 L779.5 283.91 L781 283.97 L782.5 284.16 L784 284.48 L785.5 284.93 L787 285.52 L788.5 286.26 L790 287.14 L791.5 288.15 L793 289.25 L794.5 290.43 L796 291.66 L797.5 292.92 L799 294.19 L800.5 295.45 L802 296.7 L803.5 297.93 L805 299.12 L806.5 300.26 L808 301.34 L809.5 302.35 L811 303.28 L812.5 304.11 L814 304.84 L815.5 305.44 L817 305.92 L818.5 306.26 L820 306.45 L821.5 306.48 L823 306.34 L824.5 306.03 L826 305.54 L827.5 304.89 L829 304.08 L830.5 303.13 L832 302.04 L833.5 300.82 L835 299.47 L836.5 298 L838 296.43 L839.5 294.76 L841 292.99 L842.5 291.15 L844 289.26 L845.5 287.36 L847 285.47 L848.5 283.61 L850 281.82 L851.5 280.1 L853 278.45 L854.5 276.88 L856 275.39 L857.5 273.99 L859 272.66 L860.5 271.42 L862 270.28 L863.5 269.22 L865 268.26 L866.5 267.39 L868 266.62 L869.5 265.96 L871 265.41 L872.5 264.98 L874 264.69 L875.5 264.56 L877 264.58 L878.5 264.76 L880 265.1 L881.5 265.59 L883 266.22 L884.5 266.97 L886 267.86 L887.5 268.85 L889 269.96 L890.5 271.17 L892 272.47 L893.5 273.85 L895 275.31 L896.5 276.85 L898 278.44 L899.5 280.09 L901 281.79 L902.5 283.53 L904 285.3 L905.5 287.09 L907 288.9 L908.5 290.72 L910 292.54 L911.5 294.35 L913 296.16 L914.5 297.95 L916 299.72 L917.5 301.48 L919 303.21 L920.5 304.92 L922 306.6 L923.5 308.24 L925 309.85 L926.5 311.42 L928 312.95 L929.5 314.43 L931 315.86 L932.5 317.24 L934 318.57 L935.5 319.83 L937 321.03 L938.5 322.17 L940 323.24 L941.5 324.24 L943 325.16 L944.5 326 L946 326.76 L947.5 327.45 L949 328.07 L950.5 328.64 L952 329.16 L953.5 329.65 L955 330.12 L956.5 330.57 L958 331.02 L959.5 331.47 L961 331.94 L962.5 332.44 L964 332.97 L964.7 333.24" fill="none" stroke="#0000ff" stroke-width="4.17" stroke-linejoin="round" stroke-linecap="butt"/>
</g>
<rect x="553" y="32" width="411.5" height="309.5" fill="none" stroke="#000" stroke-width="1.11"/>
<path d="M602.3 341.5 v4.86 M656.3 341.5 v4.86 M710.3 341.5 v4.86 M764.3 341.5 v4.86 M818.3 341.5 v4.86 M872.3 341.5 v4.86 M926.3 341.5 v4.86 M553 341.5 h-4.86 M553 289.64 h-4.86 M553 237.78 h-4.86 M553 185.92 h-4.86 M553 134.06 h-4.86 M553 82.2 h-4.86" stroke="#000" stroke-width="1.11" fill="none"/>
<g font-size="13.89" text-anchor="middle">
<text x="602.3" y="361.9">−2.0</text>
<text x="656.3" y="361.9">−1.5</text>
<text x="710.3" y="361.9">−1.0</text>
<text x="764.3" y="361.9">−0.5</text>
<text x="818.3" y="361.9">0.0</text>
<text x="872.3" y="361.9">0.5</text>
<text x="926.3" y="361.9">1.0</text>
</g>
<g font-size="13.89" text-anchor="end">
<text x="543.28" y="346.6">0.0</text>
<text x="543.28" y="294.74">0.2</text>
<text x="543.28" y="242.88">0.4</text>
<text x="543.28" y="191.02">0.6</text>
<text x="543.28" y="139.16">0.8</text>
<text x="543.28" y="87.3">1.0</text>
</g>
<text font-size="13.89" text-anchor="middle" transform="translate(512.5 186.75) rotate(-90)">Density</text>
<text font-size="16.67" text-anchor="middle" x="758.75" y="23.4">IQR_val</text>
<rect x="559.7" y="38.8" width="91.1" height="65.9" rx="2.8" fill="#fff" fill-opacity="0.8" stroke="#ccc" stroke-width="1.11"/>
<rect x="565" y="46.4" width="27.8" height="9.7" fill="#ff0000" fill-opacity="0.2"/>
<text font-size="13.89" x="604.3" y="54.7">NREM</text>
<rect x="565" y="66.3" width="27.8" height="9.7" fill="#008000" fill-opacity="0.2"/>
<text font-size="13.89" x="604.3" y="75.5">REM</text>
<rect x="565" y="86.3" width="27.8" height="9.7" fill="#0000ff" fill-opacity="0.2"/>
<text font-size="13.89" x="604.3" y="95.6">Sleep</text>
<clipPath id="c3"><rect x="1046.5" y="32" width="411.3" height="309.5"/></clipPath>
<g clip-path="url(#c3)">
<g fill="#ff0000" fill-opacity="0.2">
<rect x="1039" y="332" width="18" height="11.5"/>
<rect x="1057" y="331" width="17" height="12.5"/>
<rect x="1074" y="336" width="18" height="7.5"/>
<rect x="1092" y="305" width="17" height="38.5"/>
<rect x="1109" y="309" width="18" height="34.5"/>
<rect x="1127" y="319" width="17" height="24.5"/>
<rect x="1144" y="338" width="18" height="5.5"/>
<rect x="1162" y="314" width="17" height="29.5"/>
<rect x="1179" y="303" width="18" height="40.5"/>
<rect x="1197" y="325" width="17" height="18.5"/>
<rect x="1214" y="269" width="18" height="74.5"/>
<rect x="1232" y="252" width="17" height="91.5"/>
<rect x="1249" y="241" width="18" height="102.5"/>
<rect x="1267" y="286" width="17" height="57.5"/>
<rect x="1284" y="286" width="18" height="57.5"/>
<rect x="1302" y="256" width="17" height="87.5"/>
<rect x="1319" y="190" width="18" height="153.5"/>
<rect x="1337" y="123" width="17" height="220.5"/>
<rect x="1354" y="47" width="18" height="296.5"/>
<rect x="1372" y="114" width="17" height="229.5"/>
<rect x="1389" y="200" width="18" height="143.5"/>
<rect x="1407" y="278" width="17" height="65.5"/>
<rect x="1424" y="295" width="18" height="48.5"/>
<rect x="1442" y="317" width="17" height="26.5"/>
</g>
<g fill="#008000" fill-opacity="0.2">
<rect x="1035" y="315" width="17" height="28.5"/>
<rect x="1052" y="332" width="17" height="11.5"/>
<rect x="1069" y="335" width="17" height="8.5"/>
<rect x="1086" y="312" width="17" height="31.5"/>
<rect x="1103" y="286" width="17" height="57.5"/>
<rect x="1120" y="332" width="17" height="11.5"/>
<rect x="1137" y="335" width="17" height="8.5"/>
<rect x="1154" y="337" width="17" height="6.5"/>
<rect x="1171" y="307" width="17" height="36.5"/>
<rect x="1188" y="329" width="17" height="14.5"/>
<rect x="1205" y="335" width="16" height="8.5"/>
<rect x="1221" y="252" width="17" height="91.5"/>
<rect x="1238" y="305" width="17" height="38.5"/>
<rect x="1255" y="269" width="17" height="74.5"/>
<rect x="1272" y="284" width="17" height="59.5"/>
<rect x="1289" y="236" width="17" height="107.5"/>
<rect x="1306" y="175" width="17" height="168.5"/>
<rect x="1323" y="135" width="17" height="208.5"/>
<rect x="1340" y="73" width="17" height="270.5"/>
<rect x="1357" y="98" width="17" height="245.5"/>
<rect x="1374" y="137" width="17" height="206.5"/>
<rect x="1391" y="223" width="17" height="120.5"/>
<rect x="1408" y="285" width="17" height="58.5"/>
<rect x="1425" y="313" width="17" height="30.5"/>
<rect x="1442" y="327" width="17" height="16.5"/>
</g>
<g fill="#0000ff" fill-opacity="0.2">
<rect x="1037" y="305" width="31" height="38.5"/>
<rect x="1068" y="239" width="31" height="104.5"/>
<rect x="1099" y="202" width="31" height="141.5"/>
<rect x="1130" y="277" width="31" height="66.5"/>
<rect x="1161" y="133" width="31" height="210.5"/>
<rect x="1192" y="302" width="31" height="41.5"/>
<rect x="1223" y="269" width="30" height="74.5"/>
<rect x="1253" y="219" width="31" height="124.5"/>
<rect x="1284" y="305" width="31" height="38.5"/>
<rect x="1315" y="295" width="31" height="48.5"/>
<rect x="1346" y="280" width="31" height="63.5"/>
<rect x="1377" y="314" width="31" height="29.5"/>
<rect x="1408" y="314" width="31" height="29.5"/>
<rect x="1439" y="326" width="31" height="17.5"/>
</g>
<g fill="#a62626" fill-opacity="0.15"><rect x="1057" y="332" width="1" height="11.5"/><rect x="1074" y="336" width="1" height="7.5"/><rect x="1092" y="336" width="1" height="7.5"/><rect x="1109" y="309" width="1" height="34.5"/><rect x="1127" y="319" width="1" height="24.5"/><rect x="1144" y="338" width="1" height="5.5"/><rect x="1162" y="338" width="1" height="5.5"/><rect x="1179" y="314" width="1" height="29.5"/><rect x="1197" y="325" width="1" height="18.5"/><rect x="1214" y="325" width="1" height="18.5"/><rect x="1232" y="269" width="1" height="74.5"/><rect x="1249" y="252" width="1" height="91.5"/><rect x="1267" y="286" width="1" height="57.5"/><rect x="1284" y="286" width="1" height="57.5"/><rect x="1302" y="286" width="1" height="57.5"/><rect x="1319" y="256" width="1" height="87.5"/><rect x="1337" y="190" width="1" height="153.5"/><rect x="1354" y="123" width="1" height="220.5"/><rect x="1372" y="114" width="1" height="229.5"/><rect x="1389" y="200" width="1" height="143.5"/><rect x="1407" y="278" width="1" height="65.5"/><rect x="1424" y="295" width="1" height="48.5"/><rect x="1442" y="317" width="1" height="26.5"/></g>
<g fill="#256525" fill-opacity="0.15"><rect x="1051" y="332" width="1" height="11.5"/><rect x="1068" y="335" width="1" height="8.5"/><rect x="1085" y="335" width="1" height="8.5"/><rect x="1102" y="312" width="1" height="31.5"/><rect x="1119" y="332" width="1" height="11.5"/><rect x="1136" y="335" width="1" height="8.5"/><rect x="1153" y="337" width="1" height="6.5"/><rect x="1170" y="337" width="1" height="6.5"/><rect x="1187" y="329" width="1" height="14.5"/><rect x="1204" y="335" width="1" height="8.5"/><rect x="1220" y="335" width="1" height="8.5"/><rect x="1237" y="305" width="1" height="38.5"/><rect x="1254" y="305" width="1" height="38.5"/><rect x="1271" y="284" width="1" height="59.5"/><rect x="1288" y="284" width="1" height="59.5"/><rect x="1305" y="236" width="1" height="107.5"/><rect x="1322" y="175" width="1" height="168.5"/><rect x="1339" y="135" width="1" height="208.5"/><rect x="1356" y="98" width="1" height="245.5"/><rect x="1373" y="137" width="1" height="206.5"/><rect x="1390" y="223" width="1" height="120.5"/><rect x="1407" y="285" width="1" height="58.5"/><rect x="1424" y="313" width="1" height="30.5"/><rect x="1441" y="327" width="1" height="16.5"/></g>
<g fill="#0f0f8e" fill-opacity="0.15"><rect x="1068" y="305" width="1" height="38.5"/><rect x="1099" y="239" width="1" height="104.5"/><rect x="1130" y="277" width="1" height="66.5"/><rect x="1161" y="277" width="1" height="66.5"/><rect x="1192" y="302" width="1" height="41.5"/><rect x="1223" y="302" width="1" height="41.5"/><rect x="1253" y="269" width="1" height="74.5"/><rect x="1284" y="305" width="1" height="38.5"/><rect x="1315" y="305" width="1" height="38.5"/><rect x="1346" y="295" width="1" height="48.5"/><rect x="1377" y="314" width="1" height="29.5"/><rect x="1408" y="314" width="1" height="29.5"/><rect x="1439" y="326" width="1" height="17.5"/></g>
<path d="M1047 332.36 L1048.5 332.25 L1050 332.12 L1051.5 331.95 L1053 331.75 L1054.5 331.53 L1056 331.28 L1057.5 331.01 L1059 330.71 L1060.5 330.38 L1062 330.03 L1063.5 329.65 L1065 329.24 L1066.5 328.81 L1068 328.36 L1069.5 327.89 L1071 327.39 L1072.5 326.86 L1074 326.32 L1075.5 325.75 L1077 325.16 L1078.5 324.55 L1080 323.91 L1081.5 323.26 L1083 322.58 L1084.5 321.89 L1086 321.17 L1087.5 320.43 L1089 319.68 L1090.5 318.9 L1092 318.11 L1093.5 317.3 L1095 316.47 L1096.5 315.64 L1098 314.82 L1099.5 314.02 L1101 313.28 L1102.5 312.6 L1104 312 L1105.5 311.51 L1107 311.13 L1108.5 310.89 L1110 310.81 L1111.5 310.89 L1113 311.13 L1114.5 311.51 L1116 312.02 L1117.5 312.63 L1119 313.34 L1120.5 314.13 L1122 314.97 L1123.5 315.87 L1125 316.79 L1126.5 317.74 L1128 318.67 L1129.5 319.6 L1131 320.49 L1132.5 321.34 L1134 322.14 L1135.5 322.88 L1137 323.57 L1138.5 324.18 L1140 324.73 L1141.5 325.19 L1143 325.57 L1144.5 325.85 L1146 326.03 L1147.5 326.11 L1149 326.08 L1150.5 325.93 L1152 325.66 L1153.5 325.28 L1155 324.8 L1156.5 324.24 L1158 323.6 L1159.5 322.9 L1161 322.15 L1162.5 321.36 L1164 320.54 L1165.5 319.69 L1167 318.84 L1168.5 318 L1170 317.16 L1171.5 316.36 L1173 315.58 L1174.5 314.85 L1176 314.16 L1177.5 313.53 L1179 312.96 L1180.5 312.47 L1182 312.05 L1183.5 311.73 L1185 311.49 L1186.5 311.36 L1188 311.34 L1189.5 311.43 L1191 311.61 L1192.5 311.86 L1194 312.16 L1195.5 312.48 L1197 312.79 L1198.5 313.05 L1200 313.2 L1201.5 313.18 L1203 312.92 L1204.5 312.38 L1206 311.49 L1207.5 310.19 L1209 308.42 L1210.5 306.12 L1212 303.3 L1213.5 300.02 L1215 296.38 L1216.5 292.47 L1218 288.37 L1219.5 284.17 L1221 279.96 L1222.5 275.82 L1224 271.86 L1225.5 268.18 L1227 264.89 L1228.5 262.1 L1230 259.83 L1231.5 257.99 L1233 256.46 L1234.5 255.12 L1236 253.94 L1237.5 252.97 L1239 252.29 L1240.5 251.96 L1242 252 L1243.5 252.31 L1245 252.82 L1246.5 253.43 L1248 254.05 L1249.5 254.61 L1251 255.11 L1252.5 255.6 L1254 256.1 L1255.5 256.64 L1257 257.25 L1258.5 257.95 L1260 258.72 L1261.5 259.58 L1263 260.53 L1264.5 261.56 L1266 262.67 L1267.5 263.86 L1269 265.14 L1270.5 266.49 L1272 267.93 L1273.5 269.45 L1275 271 L1276.5 272.55 L1278 274.04 L1279.5 275.43 L1281 276.68 L1282.5 277.73 L1284 278.55 L1285.5 279.09 L1287 279.31 L1288.5 279.2 L1290 278.79 L1291.5 278.11 L1293 277.18 L1294.5 276 L1296 274.56 L1297.5 272.84 L1299 270.81 L1300.5 268.48 L1302 265.81 L1303.5 262.8 L1305 259.44 L1306.5 255.83 L1308 252.18 L1309.5 248.6 L1311 244.97 L1312.5 241.1 L1314 236.89 L1315.5 232.37 L1317 227.59 L1318.5 222.59 L1320 217.41 L1321.5 212.1 L1323 206.71 L1324.5 201.28 L1326 195.84 L1327.5 190.4 L1329 184.93 L1330.5 179.43 L1332 173.86 L1333.5 168.22 L1335 162.49 L1336.5 156.65 L1338 150.67 L1339.5 144.44 L1341 137.62 L1342.5 130.06 L1344 122.23 L1345.5 114.74 L1347 108.19 L1348.5 102.69 L1350 98.03 L1351.5 94.02 L1353 90.46 L1354.5 87.29 L1356 84.54 L1357.5 82.22 L1359 80.36 L1360.5 79 L1362 78.18 L1363.5 77.92 L1365 78.29 L1366.5 79.3 L1368 81.02 L1369.5 83.46 L1371 86.57 L1372.5 90.07 L1374 93.71 L1375.5 97.32 L1377 101.1 L1378.5 105.37 L1380 110.43 L1381.5 116.6 L1383 123.86 L1384.5 131.7 L1386 139.57 L1387.5 147.06 L1389 154.2 L1390.5 161.05 L1392 167.71 L1393.5 174.19 L1395 180.49 L1396.5 186.65 L1398 192.81 L1399.5 199.12 L1401 205.66 L1402.5 212.27 L1404 218.75 L1405.5 224.98 L1407 230.97 L1408.5 236.75 L1410 242.37 L1411.5 247.81 L1413 253.05 L1414.5 258.08 L1416 262.86 L1417.5 267.38 L1419 271.61 L1420.5 275.53 L1422 279.13 L1423.5 282.41 L1425 285.4 L1426.5 288.12 L1428 290.6 L1429.5 292.87 L1431 294.95 L1432.5 296.86 L1434 298.63 L1435.5 300.28 L1437 301.84 L1438.5 303.34 L1440 304.77 L1441.5 306.13 L1443 307.44 L1444.5 308.69 L1446 309.88 L1447.5 311.02 L1449 312.11 L1450.5 313.15 L1452 314.13 L1453.5 315.07 L1455 315.97 L1456.5 316.82 L1457.8 317.53" fill="none" stroke="#ff0000" stroke-width="4.17" stroke-linejoin="round" stroke-linecap="butt"/>
<path d="M1047 324.4 L1048.5 324.26 L1050 324.21 L1051.5 324.22 L1053 324.29 L1054.5 324.4 L1056 324.55 L1057.5 324.71 L1059 324.89 L1060.5 325.06 L1062 325.21 L1063.5 325.34 L1065 325.43 L1066.5 325.47 L1068 325.44 L1069.5 325.34 L1071 325.15 L1072.5 324.87 L1074 324.48 L1075.5 323.99 L1077 323.43 L1078.5 322.8 L1080 322.1 L1081.5 321.36 L1083 320.59 L1084.5 319.79 L1086 318.97 L1087.5 318.15 L1089 317.34 L1090.5 316.55 L1092 315.79 L1093.5 315.07 L1095 314.38 L1096.5 313.74 L1098 313.16 L1099.5 312.64 L1101 312.18 L1102.5 311.79 L1104 311.48 L1105.5 311.26 L1107 311.12 L1108.5 311.08 L1110 311.14 L1111.5 311.31 L1113 311.6 L1114.5 312 L1116 312.53 L1117.5 313.19 L1119 313.97 L1120.5 314.85 L1122 315.81 L1123.5 316.84 L1125 317.92 L1126.5 319.04 L1128 320.18 L1129.5 321.33 L1131 322.46 L1132.5 323.57 L1134 324.64 L1135.5 325.65 L1137 326.58 L1138.5 327.44 L1140 328.2 L1141.5 328.88 L1143 329.46 L1144.5 329.95 L1146 330.33 L1147.5 330.61 L1149 330.77 L1150.5 330.83 L1152 330.77 L1153.5 330.58 L1155 330.29 L1156.5 329.9 L1158 329.42 L1159.5 328.87 L1161 328.25 L1162.5 327.58 L1164 326.87 L1165.5 326.12 L1167 325.36 L1168.5 324.59 L1170 323.82 L1171.5 323.06 L1173 322.34 L1174.5 321.65 L1176 321.01 L1177.5 320.43 L1179 319.92 L1180.5 319.49 L1182 319.15 L1183.5 318.89 L1185 318.7 L1186.5 318.58 L1188 318.51 L1189.5 318.49 L1191 318.5 L1192.5 318.55 L1194 318.63 L1195.5 318.71 L1197 318.81 L1198.5 318.89 L1200 318.94 L1201.5 318.93 L1203 318.83 L1204.5 318.63 L1206 318.31 L1207.5 317.82 L1209 317.17 L1210.5 316.31 L1212 315.23 L1213.5 313.9 L1215 312.36 L1216.5 310.63 L1218 308.74 L1219.5 306.71 L1221 304.58 L1222.5 302.37 L1224 300.11 L1225.5 297.83 L1227 295.56 L1228.5 293.32 L1230 291.15 L1231.5 289.07 L1233 287.12 L1234.5 285.31 L1236 283.69 L1237.5 282.26 L1239 281.01 L1240.5 279.93 L1242 279 L1243.5 278.18 L1245 277.47 L1246.5 276.83 L1248 276.25 L1249.5 275.7 L1251 275.17 L1252.5 274.64 L1254 274.12 L1255.5 273.6 L1257 273.09 L1258.5 272.57 L1260 272.06 L1261.5 271.54 L1263 271 L1264.5 270.44 L1266 269.84 L1267.5 269.19 L1269 268.47 L1270.5 267.67 L1272 266.78 L1273.5 265.79 L1275 264.68 L1276.5 263.44 L1278 262.05 L1279.5 260.51 L1281 258.8 L1282.5 256.91 L1284 254.82 L1285.5 252.53 L1287 250.01 L1288.5 247.27 L1290 244.28 L1291.5 241.04 L1293 237.53 L1294.5 233.74 L1296 229.67 L1297.5 225.32 L1299 220.77 L1300.5 216.16 L1302 211.58 L1303.5 207.15 L1305 202.87 L1306.5 198.7 L1308 194.61 L1309.5 190.57 L1311 186.55 L1312.5 182.55 L1314 178.56 L1315.5 174.58 L1317 170.61 L1318.5 166.65 L1320 162.68 L1321.5 158.72 L1323 154.75 L1324.5 150.77 L1326 146.79 L1327.5 142.79 L1329 138.8 L1330.5 134.86 L1332 131 L1333.5 127.27 L1335 123.71 L1336.5 120.34 L1338 117.22 L1339.5 114.37 L1341 111.79 L1342.5 109.47 L1344 107.41 L1345.5 105.6 L1347 104.04 L1348.5 102.71 L1350 101.61 L1351.5 100.75 L1353 100.12 L1354.5 99.75 L1356 99.67 L1357.5 99.88 L1359 100.4 L1360.5 101.26 L1362 102.48 L1363.5 104.06 L1365 106.04 L1366.5 108.42 L1368 111.23 L1369.5 114.47 L1371 118.04 L1372.5 121.84 L1374 125.77 L1375.5 129.74 L1377 133.86 L1378.5 138.25 L1380 143.05 L1381.5 148.34 L1383 154.05 L1384.5 160.06 L1386 166.24 L1387.5 172.47 L1389 178.63 L1390.5 184.6 L1392 190.29 L1393.5 195.82 L1395 201.46 L1396.5 207.46 L1398 214.08 L1399.5 221.3 L1401 228.73 L1402.5 235.99 L1404 242.67 L1405.5 248.61 L1407 253.94 L1408.5 258.81 L1410 263.36 L1411.5 267.7 L1413 271.84 L1414.5 275.77 L1416 279.51 L1417.5 283.06 L1419 286.43 L1420.5 289.62 L1422 292.64 L1423.5 295.49 L1425 298.17 L1426.5 300.7 L1428 303.08 L1429.5 305.32 L1431 307.41 L1432.5 309.36 L1434 311.19 L1435.5 312.89 L1437 314.47 L1438.5 315.94 L1440 317.29 L1441.5 318.55 L1443 319.7 L1444.5 320.77 L1446 321.74 L1447.5 322.63 L1449 323.45 L1450.5 324.19 L1452 324.87 L1453.5 325.48 L1455 326.04 L1456.5 326.55 L1457.8 326.95" fill="none" stroke="#008000" stroke-width="4.17" stroke-linejoin="round" stroke-linecap="butt"/>
<path d="M1047 294 L1056 288 L1064 280 L1072 266 L1080 249 L1090 230 L1098 220 L1107 214.3 L1115 215.5 L1124 224 L1132 233 L1140 240 L1149 240 L1157 231 L1166 214 L1174 199 L1182 194 L1190 203 L1198 223 L1206 243.5 L1212 259 L1218 268 L1225 271.6 L1232 269.5 L1240 262 L1248 253 L1256 248.6 L1262 248 L1268 251 L1276 260 L1284 271 L1292 282 L1300 290 L1308 295.6 L1316 298 L1324 297 L1334 293.6 L1344 289.6 L1354 287.6 L1362 288.4 L1372 293 L1382 300 L1392 307 L1400 311 L1406.3 314.7 L1416.4 318 L1426.5 320 L1436.7 322.3 L1446.8 324.4 L1457.8 326.4" fill="none" stroke="#0000ff" stroke-width="4.17" stroke-linejoin="round" stroke-linecap="butt"/>
</g>
<rect x="1046.5" y="32" width="411.3" height="309.5" fill="none" stroke="#000" stroke-width="1.11"/>
<path d="M1075 341.5 v4.86 M1129.5 341.5 v4.86 M1184 341.5 v4.86 M1238.5 341.5 v4.86 M1293 341.5 v4.86 M1347.5 341.5 v4.86 M1402 341.5 v4.86 M1456.5 341.5 v4.86 M1046.5 341.5 h-4.86 M1046.5 281 h-4.86 M1046.5 220.5 h-4.86 M1046.5 160 h-4.86 M1046.5 99.5 h-4.86 M1046.5 39 h-4.86" stroke="#000" stroke-width="1.11" fill="none"/>
<g font-size="13.89" text-anchor="middle">
<text x="1075" y="361.9">−2.0</text>
<text x="1129.5" y="361.9">−1.5</text>
<text x="1184" y="361.9">−1.0</text>
<text x="1238.5" y="361.9">−0.5</text>
<text x="1293" y="361.9">0.0</text>
<text x="1347.5" y="361.9">0.5</text>
<text x="1402" y="361.9">1.0</text>
<text x="1456.5" y="361.9">1.5</text>
</g>
<g font-size="13.89" text-anchor="end">
<text x="1036.78" y="346.6">0.0</text>
<text x="1036.78" y="286.1">0.2</text>
<text x="1036.78" y="225.6">0.4</text>
<text x="1036.78" y="165.1">0.6</text>
<text x="1036.78" y="104.6">0.8</text>
<text x="1036.78" y="44.1">1.0</text>
</g>
<text font-size="13.89" text-anchor="middle" transform="translate(1006 186.75) rotate(-90)">Density</text>
<text font-size="16.67" text-anchor="middle" x="1252.15" y="23.4">width_IQR</text>
<rect x="1053" y="38.8" width="91.1" height="65.9" rx="2.8" fill="#fff" fill-opacity="0.8" stroke="#ccc" stroke-width="1.11"/>
<rect x="1058.3" y="46.4" width="27.8" height="9.7" fill="#ff0000" fill-opacity="0.2"/>
<text font-size="13.89" x="1097.6" y="54.7">NREM</text>
<rect x="1058.3" y="66.3" width="27.8" height="9.7" fill="#008000" fill-opacity="0.2"/>
<text font-size="13.89" x="1097.6" y="75.5">REM</text>
<rect x="1058.3" y="86.3" width="27.8" height="9.7" fill="#0000ff" fill-opacity="0.2"/>
<text font-size="13.89" x="1097.6" y="95.6">Sleep</text>
<clipPath id="c4"><rect x="59.5" y="403.5" width="411" height="310"/></clipPath>
<g clip-path="url(#c4)">
<g fill="#ff0000" fill-opacity="0.2">
<rect x="59" y="699" width="17" height="16.5"/>
<rect x="76" y="702" width="17" height="13.5"/>
<rect x="93" y="705" width="17" height="10.5"/>
<rect x="110" y="672" width="17" height="43.5"/>
<rect x="127" y="670" width="17" height="45.5"/>
<rect x="144" y="690" width="17" height="25.5"/>
<rect x="161" y="673" width="17" height="42.5"/>
<rect x="178" y="658" width="18" height="57.5"/>
<rect x="196" y="653" width="17" height="62.5"/>
<rect x="213" y="565" width="17" height="150.5"/>
<rect x="230" y="654" width="17" height="61.5"/>
<rect x="247" y="601" width="17" height="114.5"/>
<rect x="264" y="631" width="17" height="84.5"/>
<rect x="281" y="637" width="17" height="78.5"/>
<rect x="298" y="607" width="17" height="108.5"/>
<rect x="315" y="608" width="17" height="107.5"/>
<rect x="332" y="596" width="17" height="119.5"/>
<rect x="349" y="572" width="17" height="143.5"/>
<rect x="366" y="516" width="17" height="199.5"/>
<rect x="383" y="572" width="17" height="143.5"/>
<rect x="400" y="628" width="17" height="87.5"/>
<rect x="417" y="660" width="17" height="55.5"/>
<rect x="434" y="683" width="17" height="32.5"/>
<rect x="451" y="691" width="17" height="24.5"/>
<rect x="468" y="695" width="18" height="20.5"/>
</g>
<g fill="#008000" fill-opacity="0.2">
<rect x="55" y="670" width="16" height="45.5"/>
<rect x="71" y="701" width="16" height="14.5"/>
<rect x="87" y="692" width="16" height="23.5"/>
<rect x="103" y="682" width="16" height="33.5"/>
<rect x="119" y="684" width="16" height="31.5"/>
<rect x="135" y="684" width="16" height="31.5"/>
<rect x="151" y="690" width="16" height="25.5"/>
<rect x="167" y="658" width="16" height="57.5"/>
<rect x="183" y="690" width="16" height="25.5"/>
<rect x="199" y="655" width="17" height="60.5"/>
<rect x="216" y="622" width="16" height="93.5"/>
<rect x="232" y="671" width="16" height="44.5"/>
<rect x="248" y="615" width="16" height="100.5"/>
<rect x="264" y="645" width="16" height="70.5"/>
<rect x="280" y="639" width="16" height="76.5"/>
<rect x="296" y="625" width="16" height="90.5"/>
<rect x="312" y="571" width="16" height="144.5"/>
<rect x="328" y="567" width="16" height="148.5"/>
<rect x="344" y="550" width="16" height="165.5"/>
<rect x="360" y="545" width="16" height="170.5"/>
<rect x="376" y="578" width="16" height="137.5"/>
<rect x="392" y="600" width="16" height="115.5"/>
<rect x="408" y="610" width="16" height="105.5"/>
<rect x="424" y="678" width="17" height="37.5"/>
<rect x="441" y="688" width="16" height="27.5"/>
<rect x="457" y="693" width="16" height="22.5"/>
</g>
<g fill="#0000ff" fill-opacity="0.2">
<rect x="49" y="607" width="18" height="108.5"/>
<rect x="67" y="663" width="18" height="52.5"/>
<rect x="85" y="662" width="19" height="53.5"/>
<rect x="104" y="607" width="18" height="108.5"/>
<rect x="122" y="508" width="19" height="207.5"/>
<rect x="141" y="574" width="18" height="141.5"/>
<rect x="159" y="419" width="19" height="296.5"/>
<rect x="178" y="636" width="18" height="79.5"/>
<rect x="196" y="636" width="19" height="79.5"/>
<rect x="215" y="659" width="18" height="56.5"/>
<rect x="233" y="546" width="19" height="169.5"/>
<rect x="252" y="686" width="18" height="29.5"/>
<rect x="270" y="678" width="18" height="37.5"/>
<rect x="288" y="682" width="19" height="33.5"/>
<rect x="307" y="678" width="18" height="37.5"/>
<rect x="325" y="678" width="19" height="37.5"/>
<rect x="344" y="677" width="18" height="38.5"/>
<rect x="362" y="668" width="19" height="47.5"/>
<rect x="381" y="688" width="18" height="27.5"/>
<rect x="399" y="699" width="19" height="16.5"/>
<rect x="418" y="693" width="18" height="22.5"/>
<rect x="436" y="704" width="18" height="11.5"/>
<rect x="454" y="706" width="19" height="9.5"/>
</g>
<g fill="#a62626" fill-opacity="0.15"><rect x="76" y="702" width="1" height="13.5"/><rect x="93" y="705" width="1" height="10.5"/><rect x="110" y="705" width="1" height="10.5"/><rect x="127" y="672" width="1" height="43.5"/><rect x="144" y="690" width="1" height="25.5"/><rect x="161" y="690" width="1" height="25.5"/><rect x="178" y="673" width="1" height="42.5"/><rect x="196" y="658" width="1" height="57.5"/><rect x="213" y="653" width="1" height="62.5"/><rect x="230" y="654" width="1" height="61.5"/><rect x="247" y="654" width="1" height="61.5"/><rect x="264" y="631" width="1" height="84.5"/><rect x="281" y="637" width="1" height="78.5"/><rect x="298" y="637" width="1" height="78.5"/><rect x="315" y="608" width="1" height="107.5"/><rect x="332" y="608" width="1" height="107.5"/><rect x="349" y="596" width="1" height="119.5"/><rect x="366" y="572" width="1" height="143.5"/><rect x="383" y="572" width="1" height="143.5"/><rect x="400" y="628" width="1" height="87.5"/><rect x="417" y="660" width="1" height="55.5"/><rect x="434" y="683" width="1" height="32.5"/><rect x="451" y="691" width="1" height="24.5"/><rect x="468" y="695" width="1" height="20.5"/></g>
<g fill="#256525" fill-opacity="0.15"><rect x="70" y="701" width="1" height="14.5"/><rect x="86" y="701" width="1" height="14.5"/><rect x="102" y="692" width="1" height="23.5"/><rect x="118" y="684" width="1" height="31.5"/><rect x="134" y="684" width="1" height="31.5"/><rect x="150" y="690" width="1" height="25.5"/><rect x="166" y="690" width="1" height="25.5"/><rect x="182" y="690" width="1" height="25.5"/><rect x="198" y="690" width="1" height="25.5"/><rect x="215" y="655" width="1" height="60.5"/><rect x="231" y="671" width="1" height="44.5"/><rect x="247" y="671" width="1" height="44.5"/><rect x="263" y="645" width="1" height="70.5"/><rect x="279" y="645" width="1" height="70.5"/><rect x="295" y="639" width="1" height="76.5"/><rect x="311" y="625" width="1" height="90.5"/><rect x="327" y="571" width="1" height="144.5"/><rect x="343" y="567" width="1" height="148.5"/><rect x="359" y="550" width="1" height="165.5"/><rect x="375" y="578" width="1" height="137.5"/><rect x="391" y="600" width="1" height="115.5"/><rect x="407" y="610" width="1" height="105.5"/><rect x="423" y="678" width="1" height="37.5"/><rect x="440" y="688" width="1" height="27.5"/><rect x="456" y="693" width="1" height="22.5"/></g>
<g fill="#0f0f8e" fill-opacity="0.15"><rect x="67" y="663" width="1" height="52.5"/><rect x="85" y="663" width="1" height="52.5"/><rect x="104" y="662" width="1" height="53.5"/><rect x="122" y="607" width="1" height="108.5"/><rect x="141" y="574" width="1" height="141.5"/><rect x="159" y="574" width="1" height="141.5"/><rect x="178" y="636" width="1" height="79.5"/><rect x="196" y="636" width="1" height="79.5"/><rect x="215" y="659" width="1" height="56.5"/><rect x="233" y="659" width="1" height="56.5"/><rect x="252" y="686" width="1" height="29.5"/><rect x="270" y="686" width="1" height="29.5"/><rect x="288" y="682" width="1" height="33.5"/><rect x="307" y="682" width="1" height="33.5"/><rect x="325" y="678" width="1" height="37.5"/><rect x="344" y="678" width="1" height="37.5"/><rect x="362" y="677" width="1" height="38.5"/><rect x="381" y="688" width="1" height="27.5"/><rect x="399" y="699" width="1" height="16.5"/><rect x="418" y="699" width="1" height="16.5"/><rect x="436" y="704" width="1" height="11.5"/><rect x="454" y="706" width="1" height="9.5"/></g>
<path d="M59.4 695.92 L60.9 695.6 L62.4 695.49 L63.9 695.56 L65.4 695.77 L66.9 696.11 L68.4 696.53 L69.9 697.01 L71.4 697.52 L72.9 698.02 L74.4 698.49 L75.9 698.89 L77.4 699.22 L78.9 699.46 L80.4 699.62 L81.9 699.7 L83.4 699.7 L84.9 699.61 L86.4 699.44 L87.9 699.18 L89.4 698.83 L90.9 698.39 L92.4 697.86 L93.9 697.25 L95.4 696.53 L96.9 695.73 L98.4 694.85 L99.9 693.91 L101.4 692.92 L102.9 691.88 L104.4 690.82 L105.9 689.75 L107.4 688.68 L108.9 687.62 L110.4 686.59 L111.9 685.59 L113.4 684.65 L114.9 683.77 L116.4 682.96 L117.9 682.23 L119.4 681.56 L120.9 680.96 L122.4 680.41 L123.9 679.92 L125.4 679.47 L126.9 679.06 L128.4 678.68 L129.9 678.34 L131.4 678.01 L132.9 677.71 L134.4 677.42 L135.9 677.14 L137.4 676.86 L138.9 676.58 L140.4 676.31 L141.9 676.03 L143.4 675.75 L144.9 675.46 L146.4 675.17 L147.9 674.86 L149.4 674.55 L150.9 674.22 L152.4 673.87 L153.9 673.51 L155.4 673.13 L156.9 672.73 L158.4 672.31 L159.9 671.86 L161.4 671.38 L162.9 670.87 L164.4 670.33 L165.9 669.76 L167.4 669.16 L168.9 668.52 L170.4 667.83 L171.9 667.11 L173.4 666.35 L174.9 665.54 L176.4 664.68 L177.9 663.75 L179.4 662.75 L180.9 661.63 L182.4 660.4 L183.9 659.02 L185.4 657.48 L186.9 655.76 L188.4 653.85 L189.9 651.71 L191.4 649.33 L192.9 646.71 L194.4 643.9 L195.9 640.92 L197.4 637.84 L198.9 634.68 L200.4 631.51 L201.9 628.37 L203.4 625.33 L204.9 622.43 L206.4 619.73 L207.9 617.29 L209.4 615.15 L210.9 613.36 L212.4 611.91 L213.9 610.81 L215.4 610.06 L216.9 609.66 L218.4 609.6 L219.9 609.89 L221.4 610.49 L222.9 611.34 L224.4 612.36 L225.9 613.5 L227.4 614.7 L228.9 615.87 L230.4 616.98 L231.9 617.94 L233.4 618.75 L234.9 619.42 L236.4 619.99 L237.9 620.46 L239.4 620.87 L240.9 621.23 L242.4 621.55 L243.9 621.83 L245.4 622.07 L246.9 622.29 L248.4 622.48 L249.9 622.65 L251.4 622.81 L252.9 622.96 L254.4 623.11 L255.9 623.26 L257.4 623.41 L258.9 623.58 L260.4 623.76 L261.9 623.95 L263.4 624.14 L264.9 624.32 L266.4 624.47 L267.9 624.59 L269.4 624.68 L270.9 624.71 L272.4 624.68 L273.9 624.59 L275.4 624.41 L276.9 624.15 L278.4 623.78 L279.9 623.33 L281.4 622.79 L282.9 622.17 L284.4 621.49 L285.9 620.74 L287.4 619.93 L288.9 619.08 L290.4 618.19 L291.9 617.26 L293.4 616.31 L294.9 615.34 L296.4 614.35 L297.9 613.37 L299.4 612.39 L300.9 611.42 L302.4 610.47 L303.9 609.55 L305.4 608.66 L306.9 607.8 L308.4 606.99 L309.9 606.2 L311.4 605.45 L312.9 604.73 L314.4 604.03 L315.9 603.35 L317.4 602.69 L318.9 602.05 L320.4 601.42 L321.9 600.81 L323.4 600.2 L324.9 599.6 L326.4 599 L327.9 598.4 L329.4 597.79 L330.9 597.14 L332.4 596.45 L333.9 595.71 L335.4 594.89 L336.9 593.99 L338.4 593 L339.9 591.9 L341.4 590.67 L342.9 589.31 L344.4 587.8 L345.9 586.13 L347.4 584.28 L348.9 582.27 L350.4 580.08 L351.9 577.74 L353.4 575.25 L354.9 572.61 L356.4 569.84 L357.9 566.95 L359.4 563.93 L360.9 560.86 L362.4 557.81 L363.9 554.88 L365.4 552.15 L366.9 549.71 L368.4 547.65 L369.9 546.03 L371.4 544.86 L372.9 544.15 L374.4 543.92 L375.9 544.18 L377.4 544.94 L378.9 546.22 L380.4 548.02 L381.9 550.36 L383.4 553.22 L384.9 556.51 L386.4 560.12 L387.9 563.93 L389.4 567.83 L390.9 571.7 L392.4 575.43 L393.9 578.92 L395.4 582.21 L396.9 585.42 L398.4 588.68 L399.9 592.13 L401.4 595.88 L402.9 600.09 L404.4 604.97 L405.9 610.65 L407.4 616.58 L408.9 621.99 L410.4 626.41 L411.9 630.09 L413.4 633.42 L414.9 636.71 L416.4 639.99 L417.9 643.14 L419.4 646.11 L420.9 648.87 L422.4 651.46 L423.9 653.92 L425.4 656.27 L426.9 658.5 L428.4 660.63 L429.9 662.66 L431.4 664.59 L432.9 666.42 L434.4 668.16 L435.9 669.81 L437.4 671.38 L438.9 672.86 L440.4 674.27 L441.9 675.6 L443.4 676.87 L444.9 678.07 L446.4 679.2 L447.9 680.28 L449.4 681.3 L450.9 682.27 L452.4 683.19 L453.9 684.06 L455.4 684.89 L456.9 685.69 L458.4 686.45 L459.9 687.19 L461.4 687.89 L462.9 688.58 L464.4 689.24 L465.9 689.89 L467.4 690.53 L468.9 691.15 L470.4 691.78 L470.8 691.94" fill="none" stroke="#ff0000" stroke-width="4.17" stroke-linejoin="round" stroke-linecap="butt"/>
<path d="M59.4 689.88 L60.9 689.62 L62.4 689.44 L63.9 689.33 L65.4 689.29 L66.9 689.3 L68.4 689.35 L69.9 689.44 L71.4 689.55 L72.9 689.67 L74.4 689.79 L75.9 689.9 L77.4 690 L78.9 690.07 L80.4 690.1 L81.9 690.08 L83.4 689.99 L84.9 689.85 L86.4 689.64 L87.9 689.39 L89.4 689.08 L90.9 688.73 L92.4 688.34 L93.9 687.93 L95.4 687.48 L96.9 687.02 L98.4 686.55 L99.9 686.07 L101.4 685.59 L102.9 685.11 L104.4 684.64 L105.9 684.19 L107.4 683.76 L108.9 683.35 L110.4 682.96 L111.9 682.6 L113.4 682.27 L114.9 681.97 L116.4 681.7 L117.9 681.47 L119.4 681.27 L120.9 681.12 L122.4 681 L123.9 680.93 L125.4 680.9 L126.9 680.92 L128.4 680.97 L129.9 681.04 L131.4 681.13 L132.9 681.22 L134.4 681.3 L135.9 681.35 L137.4 681.39 L138.9 681.4 L140.4 681.38 L141.9 681.34 L143.4 681.27 L144.9 681.17 L146.4 681.05 L147.9 680.9 L149.4 680.73 L150.9 680.52 L152.4 680.29 L153.9 680.03 L155.4 679.74 L156.9 679.42 L158.4 679.07 L159.9 678.69 L161.4 678.28 L162.9 677.84 L164.4 677.37 L165.9 676.87 L167.4 676.33 L168.9 675.76 L170.4 675.15 L171.9 674.49 L173.4 673.79 L174.9 673.05 L176.4 672.25 L177.9 671.4 L179.4 670.49 L180.9 669.53 L182.4 668.5 L183.9 667.41 L185.4 666.25 L186.9 665.02 L188.4 663.72 L189.9 662.34 L191.4 660.88 L192.9 659.34 L194.4 657.72 L195.9 656.01 L197.4 654.22 L198.9 652.39 L200.4 650.53 L201.9 648.68 L203.4 646.85 L204.9 645.07 L206.4 643.37 L207.9 641.77 L209.4 640.3 L210.9 638.98 L212.4 637.83 L213.9 636.85 L215.4 636.02 L216.9 635.33 L218.4 634.78 L219.9 634.34 L221.4 634.01 L222.9 633.79 L224.4 633.65 L225.9 633.6 L227.4 633.63 L228.9 633.72 L230.4 633.88 L231.9 634.08 L233.4 634.33 L234.9 634.62 L236.4 634.93 L237.9 635.26 L239.4 635.6 L240.9 635.95 L242.4 636.29 L243.9 636.62 L245.4 636.93 L246.9 637.21 L248.4 637.46 L249.9 637.67 L251.4 637.86 L252.9 638 L254.4 638.11 L255.9 638.18 L257.4 638.21 L258.9 638.19 L260.4 638.12 L261.9 638.01 L263.4 637.85 L264.9 637.63 L266.4 637.36 L267.9 637.03 L269.4 636.64 L270.9 636.19 L272.4 635.67 L273.9 635.1 L275.4 634.45 L276.9 633.73 L278.4 632.94 L279.9 632.08 L281.4 631.14 L282.9 630.12 L284.4 629.02 L285.9 627.83 L287.4 626.56 L288.9 625.19 L290.4 623.73 L291.9 622.17 L293.4 620.52 L294.9 618.77 L296.4 616.94 L297.9 615.05 L299.4 613.12 L300.9 611.16 L302.4 609.19 L303.9 607.21 L305.4 605.24 L306.9 603.28 L308.4 601.33 L309.9 599.4 L311.4 597.49 L312.9 595.6 L314.4 593.72 L315.9 591.85 L317.4 589.96 L318.9 588.06 L320.4 586.12 L321.9 584.16 L323.4 582.17 L324.9 580.17 L326.4 578.18 L327.9 576.21 L329.4 574.27 L330.9 572.39 L332.4 570.57 L333.9 568.83 L335.4 567.19 L336.9 565.66 L338.4 564.25 L339.9 562.96 L341.4 561.78 L342.9 560.73 L344.4 559.79 L345.9 558.96 L347.4 558.26 L348.9 557.66 L350.4 557.18 L351.9 556.82 L353.4 556.57 L354.9 556.43 L356.4 556.41 L357.9 556.5 L359.4 556.7 L360.9 557.01 L362.4 557.45 L363.9 558 L365.4 558.66 L366.9 559.45 L368.4 560.36 L369.9 561.39 L371.4 562.54 L372.9 563.81 L374.4 565.21 L375.9 566.74 L377.4 568.38 L378.9 570.13 L380.4 571.97 L381.9 573.88 L383.4 575.86 L384.9 577.89 L386.4 579.95 L387.9 582.03 L389.4 584.13 L390.9 586.23 L392.4 588.33 L393.9 590.44 L395.4 592.54 L396.9 594.65 L398.4 596.78 L399.9 598.91 L401.4 601.06 L402.9 603.23 L404.4 605.42 L405.9 607.65 L407.4 609.91 L408.9 612.2 L410.4 614.54 L411.9 616.92 L413.4 619.35 L414.9 621.83 L416.4 624.36 L417.9 626.92 L419.4 629.51 L420.9 632.12 L422.4 634.73 L423.9 637.33 L425.4 639.93 L426.9 642.5 L428.4 645.04 L429.9 647.53 L431.4 649.98 L432.9 652.36 L434.4 654.67 L435.9 656.92 L437.4 659.09 L438.9 661.18 L440.4 663.21 L441.9 665.16 L443.4 667.04 L444.9 668.83 L446.4 670.56 L447.9 672.2 L449.4 673.77 L450.9 675.26 L452.4 676.67 L453.9 678 L455.4 679.25 L456.9 680.43 L458.4 681.55 L459.9 682.6 L461.4 683.59 L462.9 684.53 L464.4 685.41 L465.9 686.25 L467.4 687.04 L468.9 687.79 L470.4 688.5 L470.8 688.69" fill="none" stroke="#008000" stroke-width="4.17" stroke-linejoin="round" stroke-linecap="butt"/>
<path d="M59.4 649.96 L60.9 648.86 L62.4 647.96 L63.9 647.23 L65.4 646.64 L66.9 646.16 L68.4 645.77 L69.9 645.43 L71.4 645.14 L72.9 644.84 L74.4 644.53 L75.9 644.17 L77.4 643.74 L78.9 643.21 L80.4 642.55 L81.9 641.74 L83.4 640.74 L84.9 639.54 L86.4 638.1 L87.9 636.41 L89.4 634.42 L90.9 632.14 L92.4 629.59 L93.9 626.79 L95.4 623.77 L96.9 620.55 L98.4 617.18 L99.9 613.67 L101.4 610.04 L102.9 606.34 L104.4 602.57 L105.9 598.78 L107.4 594.99 L108.9 591.22 L110.4 587.5 L111.9 583.85 L113.4 580.3 L114.9 576.86 L116.4 573.57 L117.9 570.44 L119.4 567.5 L120.9 564.77 L122.4 562.29 L123.9 560.05 L125.4 558.08 L126.9 556.34 L128.4 554.78 L129.9 553.39 L131.4 552.12 L132.9 550.95 L134.4 549.83 L135.9 548.74 L137.4 547.64 L138.9 546.5 L140.4 545.29 L141.9 544.03 L143.4 542.7 L144.9 541.3 L146.4 539.85 L147.9 538.36 L149.4 536.85 L150.9 535.35 L152.4 533.92 L153.9 532.57 L155.4 531.34 L156.9 530.26 L158.4 529.38 L159.9 528.73 L161.4 528.36 L162.9 528.34 L164.4 528.75 L165.9 529.63 L167.4 531.07 L168.9 533.12 L170.4 535.73 L171.9 538.85 L173.4 542.43 L174.9 546.4 L176.4 550.7 L177.9 555.28 L179.4 560.07 L180.9 565.03 L182.4 570.08 L183.9 575.18 L185.4 580.28 L186.9 585.36 L188.4 590.39 L189.9 595.34 L191.4 600.18 L192.9 604.89 L194.4 609.43 L195.9 613.74 L197.4 617.77 L198.9 621.46 L200.4 624.77 L201.9 627.69 L203.4 630.23 L204.9 632.43 L206.4 634.28 L207.9 635.81 L209.4 637.02 L210.9 637.94 L212.4 638.57 L213.9 638.94 L215.4 639.05 L216.9 638.93 L218.4 638.59 L219.9 638.04 L221.4 637.32 L222.9 636.46 L224.4 635.47 L225.9 634.37 L227.4 633.2 L228.9 631.98 L230.4 630.74 L231.9 629.48 L233.4 628.26 L234.9 627.07 L236.4 625.96 L237.9 624.94 L239.4 624.05 L240.9 623.29 L242.4 622.71 L243.9 622.32 L245.4 622.14 L246.9 622.21 L248.4 622.52 L249.9 623.09 L251.4 623.91 L252.9 624.98 L254.4 626.3 L255.9 627.87 L257.4 629.69 L258.9 631.76 L260.4 634.07 L261.9 636.58 L263.4 639.24 L264.9 641.99 L266.4 644.78 L267.9 647.56 L269.4 650.29 L270.9 652.97 L272.4 655.56 L273.9 658.05 L275.4 660.42 L276.9 662.66 L278.4 664.74 L279.9 666.65 L281.4 668.37 L282.9 669.88 L284.4 671.17 L285.9 672.26 L287.4 673.18 L288.9 673.94 L290.4 674.59 L291.9 675.15 L293.4 675.62 L294.9 676.03 L296.4 676.36 L297.9 676.63 L299.4 676.85 L300.9 677.01 L302.4 677.12 L303.9 677.19 L305.4 677.22 L306.9 677.21 L308.4 677.18 L309.9 677.12 L311.4 677.05 L312.9 676.95 L314.4 676.85 L315.9 676.75 L317.4 676.64 L318.9 676.53 L320.4 676.42 L321.9 676.31 L323.4 676.19 L324.9 676.07 L326.4 675.95 L327.9 675.82 L329.4 675.7 L330.9 675.56 L332.4 675.43 L333.9 675.3 L335.4 675.16 L336.9 675.03 L338.4 674.89 L339.9 674.77 L341.4 674.64 L342.9 674.53 L344.4 674.42 L345.9 674.32 L347.4 674.24 L348.9 674.16 L350.4 674.1 L351.9 674.05 L353.4 674.02 L354.9 674.01 L356.4 674.02 L357.9 674.05 L359.4 674.1 L360.9 674.17 L362.4 674.27 L363.9 674.39 L365.4 674.55 L366.9 674.75 L368.4 674.99 L369.9 675.3 L371.4 675.67 L372.9 676.12 L374.4 676.66 L375.9 677.28 L377.4 678 L378.9 678.78 L380.4 679.63 L381.9 680.51 L383.4 681.41 L384.9 682.32 L386.4 683.22 L387.9 684.1 L389.4 684.95 L390.9 685.76 L392.4 686.54 L393.9 687.29 L395.4 688 L396.9 688.68 L398.4 689.33 L399.9 689.94 L401.4 690.51 L402.9 691.05 L404.4 691.56 L405.9 692.02 L407.4 692.46 L408.9 692.85 L410.4 693.22 L411.9 693.57 L413.4 693.9 L414.9 694.22 L416.4 694.53 L417.9 694.86 L419.4 695.18 L420.9 695.52 L422.4 695.85 L423.9 696.19 L425.4 696.53 L426.9 696.87 L428.4 697.21 L429.9 697.56 L431.4 697.9 L432.9 698.24 L434.4 698.58 L435.9 698.91 L437.4 699.24 L438.9 699.57 L440.4 699.89 L441.9 700.2 L443.4 700.51 L444.9 700.81 L446.4 701.11 L447.9 701.39 L449.4 701.66 L450.9 701.93 L452.4 702.18 L453.9 702.42 L455.4 702.65 L456.9 702.86 L458.4 703.06 L459.9 703.25 L461.4 703.41 L462.9 703.57 L464.4 703.7 L465.9 703.82 L467.4 703.92 L468.9 704 L470.4 704.06 L470.8 704.07" fill="none" stroke="#0000ff" stroke-width="4.17" stroke-linejoin="round" stroke-linecap="butt"/>
</g>
<rect x="59.5" y="403.5" width="411" height="310" fill="none" stroke="#000" stroke-width="1.11"/>
<path d="M112.5 713.5 v4.86 M167.8 713.5 v4.86 M223 713.5 v4.86 M278.3 713.5 v4.86 M333.5 713.5 v4.86 M388.8 713.5 v4.86 M444 713.5 v4.86 M59.5 713.5 h-4.86 M59.5 655.6 h-4.86 M59.5 597.7 h-4.86 M59.5 539.8 h-4.86 M59.5 481.9 h-4.86 M59.5 424 h-4.86" stroke="#000" stroke-width="1.11" fill="none"/>
<g font-size="13.89" text-anchor="middle">
<text x="112.5" y="733.9">−1.5</text>
<text x="167.8" y="733.9">−1.0</text>
<text x="223" y="733.9">−0.5</text>
<text x="278.3" y="733.9">0.0</text>
<text x="333.5" y="733.9">0.5</text>
<text x="388.8" y="733.9">1.0</text>
<text x="444" y="733.9">1.5</text>
</g>
<g font-size="13.89" text-anchor="end">
<text x="49.78" y="718.6">0.0</text>
<text x="49.78" y="660.7">0.2</text>
<text x="49.78" y="602.8">0.4</text>
<text x="49.78" y="544.9">0.6</text>
<text x="49.78" y="487">0.8</text>
<text x="49.78" y="429.1">1.0</text>
</g>
<text font-size="13.89" text-anchor="middle" transform="translate(19 558.5) rotate(-90)">Density</text>
<text font-size="16.67" text-anchor="middle" x="265" y="394.9">PTdiff</text>
<rect x="372.4" y="410.3" width="91.1" height="65.9" rx="2.8" fill="#fff" fill-opacity="0.8" stroke="#ccc" stroke-width="1.11"/>
<rect x="376.9" y="417" width="27.8" height="9.7" fill="#ff0000" fill-opacity="0.2"/>
<text font-size="13.89" x="416.6" y="426.6">NREM</text>
<rect x="376.9" y="438.1" width="27.8" height="9.7" fill="#008000" fill-opacity="0.2"/>
<text font-size="13.89" x="416.6" y="446.8">REM</text>
<rect x="376.9" y="458.1" width="27.8" height="9.7" fill="#0000ff" fill-opacity="0.2"/>
<text font-size="13.89" x="416.6" y="467.8">Sleep</text>
<clipPath id="c5"><rect x="553" y="403.5" width="411.5" height="310"/></clipPath>
<g clip-path="url(#c5)">
<g fill="#ff0000" fill-opacity="0.2">
<rect x="550" y="700" width="17" height="15.5"/>
<rect x="567" y="700" width="18" height="15.5"/>
<rect x="585" y="705" width="17" height="10.5"/>
<rect x="602" y="671" width="18" height="44.5"/>
<rect x="620" y="669" width="17" height="46.5"/>
<rect x="637" y="684" width="17" height="31.5"/>
<rect x="654" y="672" width="18" height="43.5"/>
<rect x="672" y="669" width="17" height="46.5"/>
<rect x="689" y="661" width="17" height="54.5"/>
<rect x="706" y="562" width="18" height="153.5"/>
<rect x="724" y="646" width="17" height="69.5"/>
<rect x="741" y="593" width="17" height="122.5"/>
<rect x="758" y="625" width="18" height="90.5"/>
<rect x="776" y="613" width="17" height="102.5"/>
<rect x="793" y="603" width="18" height="112.5"/>
<rect x="811" y="587" width="17" height="128.5"/>
<rect x="828" y="557" width="17" height="158.5"/>
<rect x="845" y="530" width="18" height="185.5"/>
<rect x="863" y="550" width="17" height="165.5"/>
<rect x="880" y="618" width="17" height="97.5"/>
<rect x="897" y="641" width="18" height="74.5"/>
<rect x="915" y="673" width="17" height="42.5"/>
<rect x="932" y="684" width="17" height="31.5"/>
<rect x="949" y="694" width="18" height="21.5"/>
</g>
<g fill="#008000" fill-opacity="0.2">
<rect x="545" y="664" width="16" height="51.5"/>
<rect x="561" y="709" width="16" height="6.5"/>
<rect x="577" y="699" width="16" height="16.5"/>
<rect x="593" y="666" width="16" height="49.5"/>
<rect x="609" y="684" width="16" height="31.5"/>
<rect x="625" y="685" width="16" height="30.5"/>
<rect x="641" y="684" width="16" height="31.5"/>
<rect x="657" y="674" width="16" height="41.5"/>
<rect x="673" y="678" width="16" height="37.5"/>
<rect x="689" y="672" width="16" height="43.5"/>
<rect x="705" y="587" width="15" height="128.5"/>
<rect x="720" y="663" width="16" height="52.5"/>
<rect x="736" y="609" width="16" height="106.5"/>
<rect x="752" y="645" width="16" height="70.5"/>
<rect x="768" y="631" width="16" height="84.5"/>
<rect x="784" y="617" width="16" height="98.5"/>
<rect x="800" y="603" width="16" height="112.5"/>
<rect x="816" y="556" width="16" height="159.5"/>
<rect x="832" y="546" width="16" height="169.5"/>
<rect x="848" y="546" width="16" height="169.5"/>
<rect x="864" y="563" width="16" height="152.5"/>
<rect x="880" y="597" width="16" height="118.5"/>
<rect x="896" y="620" width="16" height="95.5"/>
<rect x="912" y="673" width="16" height="42.5"/>
<rect x="928" y="678" width="16" height="37.5"/>
<rect x="944" y="692" width="16" height="23.5"/>
<rect x="960" y="695" width="16" height="20.5"/>
</g>
<g fill="#0000ff" fill-opacity="0.2">
<rect x="547" y="610" width="17" height="105.5"/>
<rect x="564" y="637" width="16" height="78.5"/>
<rect x="580" y="656" width="17" height="59.5"/>
<rect x="597" y="598" width="17" height="117.5"/>
<rect x="614" y="533" width="16" height="182.5"/>
<rect x="630" y="561" width="17" height="154.5"/>
<rect x="647" y="526" width="17" height="189.5"/>
<rect x="664" y="419" width="16" height="296.5"/>
<rect x="680" y="700" width="17" height="15.5"/>
<rect x="697" y="630" width="17" height="85.5"/>
<rect x="714" y="649" width="16" height="66.5"/>
<rect x="730" y="526" width="17" height="189.5"/>
<rect x="747" y="692" width="17" height="23.5"/>
<rect x="764" y="683" width="16" height="32.5"/>
<rect x="780" y="683" width="17" height="32.5"/>
<rect x="797" y="680" width="17" height="35.5"/>
<rect x="814" y="675" width="16" height="40.5"/>
<rect x="830" y="667" width="17" height="48.5"/>
<rect x="847" y="667" width="16" height="48.5"/>
<rect x="863" y="677" width="17" height="38.5"/>
<rect x="880" y="685" width="17" height="30.5"/>
<rect x="897" y="692" width="16" height="23.5"/>
<rect x="913" y="703" width="17" height="12.5"/>
<rect x="930" y="704" width="17" height="11.5"/>
<rect x="947" y="705" width="16" height="10.5"/>
<rect x="963" y="707" width="17" height="8.5"/>
</g>
<g fill="#a62626" fill-opacity="0.15"><rect x="567" y="700" width="1" height="15.5"/><rect x="585" y="705" width="1" height="10.5"/><rect x="602" y="705" width="1" height="10.5"/><rect x="620" y="671" width="1" height="44.5"/><rect x="637" y="684" width="1" height="31.5"/><rect x="654" y="684" width="1" height="31.5"/><rect x="672" y="672" width="1" height="43.5"/><rect x="689" y="669" width="1" height="46.5"/><rect x="706" y="661" width="1" height="54.5"/><rect x="724" y="646" width="1" height="69.5"/><rect x="741" y="646" width="1" height="69.5"/><rect x="758" y="625" width="1" height="90.5"/><rect x="776" y="625" width="1" height="90.5"/><rect x="793" y="613" width="1" height="102.5"/><rect x="811" y="603" width="1" height="112.5"/><rect x="828" y="587" width="1" height="128.5"/><rect x="845" y="557" width="1" height="158.5"/><rect x="863" y="550" width="1" height="165.5"/><rect x="880" y="618" width="1" height="97.5"/><rect x="897" y="641" width="1" height="74.5"/><rect x="915" y="673" width="1" height="42.5"/><rect x="932" y="684" width="1" height="31.5"/><rect x="949" y="694" width="1" height="21.5"/></g>
<g fill="#256525" fill-opacity="0.15"><rect x="560" y="709" width="1" height="6.5"/><rect x="576" y="709" width="1" height="6.5"/><rect x="592" y="699" width="1" height="16.5"/><rect x="608" y="684" width="1" height="31.5"/><rect x="624" y="685" width="1" height="30.5"/><rect x="640" y="685" width="1" height="30.5"/><rect x="656" y="684" width="1" height="31.5"/><rect x="672" y="678" width="1" height="37.5"/><rect x="688" y="678" width="1" height="37.5"/><rect x="704" y="672" width="1" height="43.5"/><rect x="719" y="663" width="1" height="52.5"/><rect x="735" y="663" width="1" height="52.5"/><rect x="751" y="645" width="1" height="70.5"/><rect x="767" y="645" width="1" height="70.5"/><rect x="783" y="631" width="1" height="84.5"/><rect x="799" y="617" width="1" height="98.5"/><rect x="815" y="603" width="1" height="112.5"/><rect x="831" y="556" width="1" height="159.5"/><rect x="847" y="546" width="1" height="169.5"/><rect x="863" y="563" width="1" height="152.5"/><rect x="879" y="597" width="1" height="118.5"/><rect x="895" y="620" width="1" height="95.5"/><rect x="911" y="673" width="1" height="42.5"/><rect x="927" y="678" width="1" height="37.5"/><rect x="943" y="692" width="1" height="23.5"/><rect x="959" y="695" width="1" height="20.5"/></g>
<g fill="#0f0f8e" fill-opacity="0.15"><rect x="564" y="637" width="1" height="78.5"/><rect x="580" y="656" width="1" height="59.5"/><rect x="597" y="656" width="1" height="59.5"/><rect x="614" y="598" width="1" height="117.5"/><rect x="630" y="561" width="1" height="154.5"/><rect x="647" y="561" width="1" height="154.5"/><rect x="664" y="526" width="1" height="189.5"/><rect x="680" y="700" width="1" height="15.5"/><rect x="697" y="700" width="1" height="15.5"/><rect x="714" y="649" width="1" height="66.5"/><rect x="730" y="649" width="1" height="66.5"/><rect x="747" y="692" width="1" height="23.5"/><rect x="764" y="692" width="1" height="23.5"/><rect x="780" y="683" width="1" height="32.5"/><rect x="797" y="683" width="1" height="32.5"/><rect x="814" y="680" width="1" height="35.5"/><rect x="830" y="675" width="1" height="40.5"/><rect x="847" y="667" width="1" height="48.5"/><rect x="863" y="677" width="1" height="38.5"/><rect x="880" y="685" width="1" height="30.5"/><rect x="897" y="692" width="1" height="23.5"/><rect x="913" y="703" width="1" height="12.5"/><rect x="930" y="704" width="1" height="11.5"/><rect x="947" y="705" width="1" height="10.5"/><rect x="963" y="707" width="1" height="8.5"/></g>
<path d="M553 697.91 L554.5 697.43 L556 697.05 L557.5 696.75 L559 696.54 L560.5 696.39 L562 696.29 L563.5 696.25 L565 696.24 L566.5 696.27 L568 696.31 L569.5 696.36 L571 696.41 L572.5 696.46 L574 696.48 L575.5 696.48 L577 696.43 L578.5 696.35 L580 696.22 L581.5 696.04 L583 695.81 L584.5 695.52 L586 695.18 L587.5 694.78 L589 694.32 L590.5 693.79 L592 693.2 L593.5 692.54 L595 691.8 L596.5 690.99 L598 690.11 L599.5 689.14 L601 688.11 L602.5 687.03 L604 685.92 L605.5 684.78 L607 683.64 L608.5 682.52 L610 681.41 L611.5 680.35 L613 679.35 L614.5 678.41 L616 677.56 L617.5 676.82 L619 676.19 L620.5 675.67 L622 675.23 L623.5 674.87 L625 674.55 L626.5 674.26 L628 673.99 L629.5 673.7 L631 673.41 L632.5 673.1 L634 672.79 L635.5 672.47 L637 672.14 L638.5 671.8 L640 671.45 L641.5 671.1 L643 670.74 L644.5 670.37 L646 669.99 L647.5 669.62 L649 669.23 L650.5 668.84 L652 668.45 L653.5 668.05 L655 667.65 L656.5 667.25 L658 666.84 L659.5 666.43 L661 666.02 L662.5 665.6 L664 665.19 L665.5 664.77 L667 664.36 L668.5 663.94 L670 663.52 L671.5 663.06 L673 662.55 L674.5 661.95 L676 661.24 L677.5 660.4 L679 659.41 L680.5 658.23 L682 656.84 L683.5 655.22 L685 653.34 L686.5 651.18 L688 648.71 L689.5 645.91 L691 642.76 L692.5 639.31 L694 635.67 L695.5 631.93 L697 628.21 L698.5 624.6 L700 621.2 L701.5 618.12 L703 615.46 L704.5 613.24 L706 611.43 L707.5 610.03 L709 609 L710.5 608.32 L712 607.97 L713.5 607.93 L715 608.17 L716.5 608.64 L718 609.3 L719.5 610.09 L721 610.98 L722.5 611.9 L724 612.83 L725.5 613.7 L727 614.48 L728.5 615.11 L730 615.57 L731.5 615.88 L733 616.05 L734.5 616.09 L736 616.03 L737.5 615.87 L739 615.65 L740.5 615.4 L742 615.16 L743.5 614.98 L745 614.89 L746.5 614.93 L748 615.13 L749.5 615.44 L751 615.84 L752.5 616.29 L754 616.77 L755.5 617.25 L757 617.7 L758.5 618.12 L760 618.5 L761.5 618.82 L763 619.08 L764.5 619.26 L766 619.36 L767.5 619.36 L769 619.26 L770.5 619.04 L772 618.72 L773.5 618.3 L775 617.79 L776.5 617.2 L778 616.53 L779.5 615.8 L781 615.02 L782.5 614.18 L784 613.3 L785.5 612.39 L787 611.46 L788.5 610.5 L790 609.54 L791.5 608.58 L793 607.62 L794.5 606.67 L796 605.74 L797.5 604.8 L799 603.85 L800.5 602.87 L802 601.85 L803.5 600.78 L805 599.65 L806.5 598.44 L808 597.14 L809.5 595.75 L811 594.25 L812.5 592.63 L814 590.92 L815.5 589.1 L817 587.2 L818.5 585.21 L820 583.15 L821.5 581.02 L823 578.83 L824.5 576.58 L826 574.28 L827.5 571.95 L829 569.57 L830.5 567.18 L832 564.76 L833.5 562.36 L835 559.98 L836.5 557.65 L838 555.4 L839.5 553.24 L841 551.2 L842.5 549.3 L844 547.56 L845.5 546 L847 544.63 L848.5 543.45 L850 542.43 L851.5 541.56 L853 540.85 L854.5 540.34 L856 540.07 L857.5 540.1 L859 540.45 L860.5 541.19 L862 542.35 L863.5 543.97 L865 546.06 L866.5 548.58 L868 551.45 L869.5 554.62 L871 558.05 L872.5 561.71 L874 565.54 L875.5 569.51 L877 573.59 L878.5 577.75 L880 581.95 L881.5 586.15 L883 590.32 L884.5 594.44 L886 598.46 L887.5 602.38 L889 606.19 L890.5 609.9 L892 613.5 L893.5 617 L895 620.41 L896.5 623.73 L898 626.95 L899.5 630.09 L901 633.14 L902.5 636.11 L904 639 L905.5 641.81 L907 644.54 L908.5 647.21 L910 649.79 L911.5 652.3 L913 654.74 L914.5 657.09 L916 659.35 L917.5 661.54 L919 663.64 L920.5 665.65 L922 667.57 L923.5 669.4 L925 671.14 L926.5 672.79 L928 674.34 L929.5 675.81 L931 677.19 L932.5 678.5 L934 679.73 L935.5 680.89 L937 681.99 L938.5 683.03 L940 684.01 L941.5 684.94 L943 685.82 L944.5 686.66 L946 687.47 L947.5 688.24 L949 688.98 L950.5 689.69 L952 690.39 L953.5 691.08 L955 691.75 L956.5 692.41 L958 693.08 L959.5 693.74 L961 694.42 L962.5 695.1 L964 695.81 L964.7 696.14" fill="none" stroke="#ff0000" stroke-width="4.17" stroke-linejoin="round" stroke-linecap="butt"/>
<path d="M553 690.23 L554.5 690.2 L556 690.14 L557.5 690.07 L559 689.97 L560.5 689.86 L562 689.73 L563.5 689.58 L565 689.42 L566.5 689.23 L568 689.03 L569.5 688.81 L571 688.58 L572.5 688.32 L574 688.05 L575.5 687.77 L577 687.47 L578.5 687.15 L580 686.81 L581.5 686.46 L583 686.1 L584.5 685.72 L586 685.33 L587.5 684.92 L589 684.49 L590.5 684.06 L592 683.61 L593.5 683.17 L595 682.72 L596.5 682.29 L598 681.86 L599.5 681.45 L601 681.06 L602.5 680.69 L604 680.35 L605.5 680.05 L607 679.78 L608.5 679.55 L610 679.37 L611.5 679.24 L613 679.17 L614.5 679.14 L616 679.16 L617.5 679.21 L619 679.28 L620.5 679.37 L622 679.46 L623.5 679.54 L625 679.61 L626.5 679.66 L628 679.69 L629.5 679.71 L631 679.7 L632.5 679.67 L634 679.61 L635.5 679.54 L637 679.43 L638.5 679.31 L640 679.15 L641.5 678.97 L643 678.76 L644.5 678.53 L646 678.26 L647.5 677.96 L649 677.63 L650.5 677.26 L652 676.87 L653.5 676.45 L655 676.01 L656.5 675.54 L658 675.05 L659.5 674.54 L661 674.01 L662.5 673.45 L664 672.87 L665.5 672.25 L667 671.6 L668.5 670.89 L670 670.13 L671.5 669.3 L673 668.41 L674.5 667.45 L676 666.4 L677.5 665.27 L679 664.04 L680.5 662.72 L682 661.28 L683.5 659.74 L685 658.11 L686.5 656.41 L688 654.65 L689.5 652.87 L691 651.08 L692.5 649.29 L694 647.52 L695.5 645.79 L697 644.11 L698.5 642.49 L700 640.95 L701.5 639.51 L703 638.17 L704.5 636.95 L706 635.86 L707.5 634.92 L709 634.12 L710.5 633.43 L712 632.84 L713.5 632.34 L715 631.91 L716.5 631.54 L718 631.24 L719.5 630.98 L721 630.78 L722.5 630.63 L724 630.52 L725.5 630.45 L727 630.42 L728.5 630.43 L730 630.47 L731.5 630.53 L733 630.62 L734.5 630.72 L736 630.85 L737.5 630.98 L739 631.13 L740.5 631.28 L742 631.43 L743.5 631.59 L745 631.73 L746.5 631.87 L748 631.99 L749.5 632.1 L751 632.18 L752.5 632.23 L754 632.26 L755.5 632.24 L757 632.19 L758.5 632.09 L760 631.94 L761.5 631.74 L763 631.48 L764.5 631.16 L766 630.77 L767.5 630.31 L769 629.77 L770.5 629.16 L772 628.46 L773.5 627.68 L775 626.81 L776.5 625.87 L778 624.84 L779.5 623.74 L781 622.57 L782.5 621.32 L784 620 L785.5 618.61 L787 617.16 L788.5 615.64 L790 614.05 L791.5 612.4 L793 610.69 L794.5 608.92 L796 607.09 L797.5 605.21 L799 603.29 L800.5 601.31 L802 599.3 L803.5 597.26 L805 595.19 L806.5 593.1 L808 590.99 L809.5 588.88 L811 586.75 L812.5 584.63 L814 582.51 L815.5 580.41 L817 578.32 L818.5 576.25 L820 574.21 L821.5 572.2 L823 570.24 L824.5 568.33 L826 566.48 L827.5 564.7 L829 563.01 L830.5 561.42 L832 559.92 L833.5 558.55 L835 557.3 L836.5 556.19 L838 555.22 L839.5 554.41 L841 553.76 L842.5 553.25 L844 552.89 L845.5 552.67 L847 552.59 L848.5 552.64 L850 552.84 L851.5 553.17 L853 553.63 L854.5 554.24 L856 554.98 L857.5 555.86 L859 556.88 L860.5 558.03 L862 559.33 L863.5 560.75 L865 562.3 L866.5 563.96 L868 565.69 L869.5 567.5 L871 569.35 L872.5 571.25 L874 573.2 L875.5 575.2 L877 577.25 L878.5 579.34 L880 581.48 L881.5 583.67 L883 585.9 L884.5 588.19 L886 590.51 L887.5 592.89 L889 595.32 L890.5 597.79 L892 600.3 L893.5 602.84 L895 605.42 L896.5 608.02 L898 610.64 L899.5 613.27 L901 615.91 L902.5 618.55 L904 621.19 L905.5 623.82 L907 626.44 L908.5 629.03 L910 631.61 L911.5 634.15 L913 636.65 L914.5 639.12 L916 641.53 L917.5 643.9 L919 646.2 L920.5 648.44 L922 650.62 L923.5 652.71 L925 654.73 L926.5 656.67 L928 658.51 L929.5 660.26 L931 661.93 L932.5 663.53 L934 665.06 L935.5 666.52 L937 667.93 L938.5 669.29 L940 670.61 L941.5 671.9 L943 673.16 L944.5 674.4 L946 675.62 L947.5 676.83 L949 678.01 L950.5 679.16 L952 680.28 L953.5 681.34 L955 682.35 L956.5 683.29 L958 684.16 L959.5 684.96 L961 685.66 L962.5 686.27 L964 686.77 L964.7 686.97" fill="none" stroke="#008000" stroke-width="4.17" stroke-linejoin="round" stroke-linecap="butt"/>
<path d="M553 653.78 L554.5 652.13 L556 650.62 L557.5 649.25 L559 647.99 L560.5 646.83 L562 645.74 L563.5 644.71 L565 643.71 L566.5 642.73 L568 641.75 L569.5 640.74 L571 639.7 L572.5 638.59 L574 637.41 L575.5 636.12 L577 634.72 L578.5 633.18 L580 631.49 L581.5 629.62 L583 627.55 L584.5 625.27 L586 622.77 L587.5 620.08 L589 617.23 L590.5 614.25 L592 611.15 L593.5 607.98 L595 604.76 L596.5 601.51 L598 598.26 L599.5 595.05 L601 591.89 L602.5 588.73 L604 585.48 L605.5 582.04 L607 578.32 L608.5 574.38 L610 570.31 L611.5 566.26 L613 562.39 L614.5 558.91 L616 555.86 L617.5 553.21 L619 550.9 L620.5 548.88 L622 547.1 L623.5 545.51 L625 544.05 L626.5 542.69 L628 541.36 L629.5 540.07 L631 538.81 L632.5 537.58 L634 536.36 L635.5 535.16 L637 533.97 L638.5 532.78 L640 531.6 L641.5 530.41 L643 529.21 L644.5 528.02 L646 526.86 L647.5 525.74 L649 524.68 L650.5 523.71 L652 522.9 L653.5 522.32 L655 522.08 L656.5 522.23 L658 522.88 L659.5 524.1 L661 525.95 L662.5 528.37 L664 531.31 L665.5 534.72 L667 538.53 L668.5 542.69 L670 547.15 L671.5 551.83 L673 556.69 L674.5 561.67 L676 566.7 L677.5 571.74 L679 576.72 L680.5 581.62 L682 586.47 L683.5 591.3 L685 596.14 L686.5 600.95 L688 605.67 L689.5 610.22 L691 614.53 L692.5 618.54 L694 622.18 L695.5 625.38 L697 628.07 L698.5 630.28 L700 632.04 L701.5 633.4 L703 634.42 L704.5 635.12 L706 635.52 L707.5 635.66 L709 635.56 L710.5 635.24 L712 634.72 L713.5 634.04 L715 633.21 L716.5 632.26 L718 631.22 L719.5 630.1 L721 628.94 L722.5 627.75 L724 626.57 L725.5 625.41 L727 624.31 L728.5 623.29 L730 622.38 L731.5 621.6 L733 620.99 L734.5 620.56 L736 620.35 L737.5 620.39 L739 620.69 L740.5 621.28 L742 622.15 L743.5 623.3 L745 624.72 L746.5 626.42 L748 628.39 L749.5 630.62 L751 633.12 L752.5 635.88 L754 638.88 L755.5 642.06 L757 645.35 L758.5 648.68 L760 651.99 L761.5 655.22 L763 658.29 L764.5 661.14 L766 663.72 L767.5 666.03 L769 668.09 L770.5 669.94 L772 671.6 L773.5 673.08 L775 674.4 L776.5 675.55 L778 676.55 L779.5 677.4 L781 678.13 L782.5 678.73 L784 679.21 L785.5 679.59 L787 679.86 L788.5 680.05 L790 680.16 L791.5 680.2 L793 680.17 L794.5 680.1 L796 679.97 L797.5 679.81 L799 679.62 L800.5 679.39 L802 679.13 L803.5 678.84 L805 678.53 L806.5 678.19 L808 677.84 L809.5 677.46 L811 677.07 L812.5 676.67 L814 676.26 L815.5 675.84 L817 675.42 L818.5 674.99 L820 674.56 L821.5 674.14 L823 673.72 L824.5 673.3 L826 672.9 L827.5 672.51 L829 672.13 L830.5 671.77 L832 671.43 L833.5 671.12 L835 670.83 L836.5 670.57 L838 670.34 L839.5 670.14 L841 669.98 L842.5 669.87 L844 669.79 L845.5 669.77 L847 669.79 L848.5 669.87 L850 670 L851.5 670.19 L853 670.44 L854.5 670.74 L856 671.09 L857.5 671.5 L859 671.96 L860.5 672.46 L862 673.01 L863.5 673.6 L865 674.24 L866.5 674.91 L868 675.63 L869.5 676.38 L871 677.17 L872.5 677.99 L874 678.84 L875.5 679.72 L877 680.62 L878.5 681.54 L880 682.47 L881.5 683.41 L883 684.36 L884.5 685.31 L886 686.27 L887.5 687.22 L889 688.16 L890.5 689.09 L892 690 L893.5 690.9 L895 691.77 L896.5 692.62 L898 693.43 L899.5 694.21 L901 694.96 L902.5 695.66 L904 696.32 L905.5 696.94 L907 697.52 L908.5 698.07 L910 698.57 L911.5 699.04 L913 699.48 L914.5 699.88 L916 700.25 L917.5 700.59 L919 700.91 L920.5 701.2 L922 701.46 L923.5 701.69 L925 701.91 L926.5 702.1 L928 702.28 L929.5 702.44 L931 702.58 L932.5 702.7 L934 702.81 L935.5 702.91 L937 702.99 L938.5 703.07 L940 703.14 L941.5 703.2 L943 703.26 L944.5 703.31 L946 703.37 L947.5 703.42 L949 703.47 L950.5 703.52 L952 703.57 L953.5 703.63 L955 703.7 L956.5 703.77 L958 703.86 L959.5 703.95 L961 704.06 L962.5 704.18 L964 704.31 L964.7 704.38" fill="none" stroke="#0000ff" stroke-width="4.17" stroke-linejoin="round" stroke-linecap="butt"/>
</g>
<rect x="553" y="403.5" width="411.5" height="310" fill="none" stroke="#000" stroke-width="1.11"/>
<path d="M606.6 713.5 v4.86 M661.3 713.5 v4.86 M715.9 713.5 v4.86 M770.5 713.5 v4.86 M825.1 713.5 v4.86 M879.7 713.5 v4.86 M934.3 713.5 v4.86 M553 713.5 h-4.86 M553 653.54 h-4.86 M553 593.58 h-4.86 M553 533.62 h-4.86 M553 473.66 h-4.86 M553 413.7 h-4.86" stroke="#000" stroke-width="1.11" fill="none"/>
<g font-size="13.89" text-anchor="middle">
<text x="606.6" y="733.9">−1.5</text>
<text x="661.3" y="733.9">−1.0</text>
<text x="715.9" y="733.9">−0.5</text>
<text x="770.5" y="733.9">0.0</text>
<text x="825.1" y="733.9">0.5</text>
<text x="879.7" y="733.9">1.0</text>
<text x="934.3" y="733.9">1.5</text>
</g>
<g font-size="13.89" text-anchor="end">
<text x="543.28" y="718.6">0.0</text>
<text x="543.28" y="658.64">0.2</text>
<text x="543.28" y="598.68">0.4</text>
<text x="543.28" y="538.72">0.6</text>
<text x="543.28" y="478.76">0.8</text>
<text x="543.28" y="418.8">1.0</text>
</g>
<text font-size="13.89" text-anchor="middle" transform="translate(512.5 558.5) rotate(-90)">Density</text>
<text font-size="16.67" text-anchor="middle" x="758.75" y="394.9">IQR_peak</text>
<rect x="866.7" y="410.3" width="91.1" height="65.9" rx="2.8" fill="#fff" fill-opacity="0.8" stroke="#ccc" stroke-width="1.11"/>
<rect x="871.2" y="417" width="27.8" height="9.7" fill="#ff0000" fill-opacity="0.2"/>
<text font-size="13.89" x="910.9" y="426.6">NREM</text>
<rect x="871.2" y="438.1" width="27.8" height="9.7" fill="#008000" fill-opacity="0.2"/>
<text font-size="13.89" x="910.9" y="446.8">REM</text>
<rect x="871.2" y="458.1" width="27.8" height="9.7" fill="#0000ff" fill-opacity="0.2"/>
<text font-size="13.89" x="910.9" y="467.8">Sleep</text>
<clipPath id="c6"><rect x="1046.5" y="403.5" width="411.3" height="310"/></clipPath>
<g clip-path="url(#c6)">
<g fill="#ff0000" fill-opacity="0.2">
<rect x="1036" y="704" width="16" height="11.5"/>
<rect x="1052" y="696" width="16" height="19.5"/>
<rect x="1068" y="706" width="16" height="9.5"/>
<rect x="1084" y="699" width="16" height="16.5"/>
<rect x="1100" y="691" width="16" height="24.5"/>
<rect x="1116" y="669" width="16" height="46.5"/>
<rect x="1132" y="688" width="16" height="27.5"/>
<rect x="1148" y="683" width="17" height="32.5"/>
<rect x="1165" y="696" width="16" height="19.5"/>
<rect x="1181" y="685" width="16" height="30.5"/>
<rect x="1197" y="681" width="16" height="34.5"/>
<rect x="1213" y="543" width="16" height="172.5"/>
<rect x="1229" y="626" width="16" height="89.5"/>
<rect x="1245" y="551" width="16" height="164.5"/>
<rect x="1261" y="578" width="16" height="137.5"/>
<rect x="1277" y="584" width="16" height="131.5"/>
<rect x="1293" y="542" width="16" height="173.5"/>
<rect x="1309" y="525" width="17" height="190.5"/>
<rect x="1326" y="526" width="16" height="189.5"/>
<rect x="1342" y="557" width="16" height="158.5"/>
<rect x="1358" y="573" width="16" height="142.5"/>
<rect x="1374" y="607" width="16" height="108.5"/>
<rect x="1390" y="623" width="16" height="92.5"/>
<rect x="1406" y="638" width="16" height="77.5"/>
<rect x="1422" y="661" width="16" height="54.5"/>
<rect x="1438" y="690" width="16" height="25.5"/>
<rect x="1454" y="690" width="16" height="25.5"/>
</g>
<g fill="#008000" fill-opacity="0.2">
<rect x="1042" y="703" width="19" height="12.5"/>
<rect x="1061" y="706" width="18" height="9.5"/>
<rect x="1079" y="689" width="19" height="26.5"/>
<rect x="1098" y="697" width="19" height="18.5"/>
<rect x="1117" y="655" width="18" height="60.5"/>
<rect x="1135" y="704" width="19" height="11.5"/>
<rect x="1154" y="698" width="18" height="17.5"/>
<rect x="1172" y="674" width="19" height="41.5"/>
<rect x="1191" y="698" width="19" height="17.5"/>
<rect x="1210" y="584" width="18" height="131.5"/>
<rect x="1228" y="607" width="19" height="108.5"/>
<rect x="1247" y="576" width="18" height="139.5"/>
<rect x="1265" y="605" width="19" height="110.5"/>
<rect x="1284" y="592" width="19" height="123.5"/>
<rect x="1303" y="508" width="18" height="207.5"/>
<rect x="1321" y="502" width="19" height="213.5"/>
<rect x="1340" y="529" width="18" height="186.5"/>
<rect x="1358" y="553" width="19" height="162.5"/>
<rect x="1377" y="598" width="19" height="117.5"/>
<rect x="1396" y="628" width="18" height="87.5"/>
<rect x="1414" y="655" width="19" height="60.5"/>
<rect x="1433" y="679" width="18" height="36.5"/>
<rect x="1451" y="695" width="19" height="20.5"/>
</g>
<g fill="#0000ff" fill-opacity="0.2">
<rect x="1039" y="636" width="18" height="79.5"/>
<rect x="1074" y="669" width="17" height="46.5"/>
<rect x="1091" y="480" width="18" height="235.5"/>
<rect x="1109" y="642" width="17" height="73.5"/>
<rect x="1126" y="471" width="18" height="244.5"/>
<rect x="1144" y="651" width="17" height="64.5"/>
<rect x="1161" y="593" width="17" height="122.5"/>
<rect x="1178" y="419" width="18" height="296.5"/>
<rect x="1213" y="597" width="18" height="118.5"/>
<rect x="1231" y="702" width="17" height="13.5"/>
<rect x="1248" y="520" width="17" height="195.5"/>
<rect x="1265" y="676" width="18" height="39.5"/>
<rect x="1283" y="666" width="17" height="49.5"/>
<rect x="1300" y="638" width="18" height="77.5"/>
<rect x="1318" y="640" width="17" height="75.5"/>
<rect x="1335" y="641" width="17" height="74.5"/>
<rect x="1352" y="662" width="18" height="53.5"/>
<rect x="1370" y="682" width="17" height="33.5"/>
<rect x="1387" y="685" width="18" height="30.5"/>
<rect x="1405" y="692" width="17" height="23.5"/>
<rect x="1422" y="700" width="17" height="15.5"/>
<rect x="1439" y="702" width="18" height="13.5"/>
<rect x="1457" y="702" width="17" height="13.5"/>
</g>
<g fill="#a62626" fill-opacity="0.15"><rect x="1052" y="704" width="1" height="11.5"/><rect x="1068" y="706" width="1" height="9.5"/><rect x="1084" y="706" width="1" height="9.5"/><rect x="1100" y="699" width="1" height="16.5"/><rect x="1116" y="691" width="1" height="24.5"/><rect x="1132" y="688" width="1" height="27.5"/><rect x="1148" y="688" width="1" height="27.5"/><rect x="1165" y="696" width="1" height="19.5"/><rect x="1181" y="696" width="1" height="19.5"/><rect x="1197" y="685" width="1" height="30.5"/><rect x="1213" y="681" width="1" height="34.5"/><rect x="1229" y="626" width="1" height="89.5"/><rect x="1245" y="626" width="1" height="89.5"/><rect x="1261" y="578" width="1" height="137.5"/><rect x="1277" y="584" width="1" height="131.5"/><rect x="1293" y="584" width="1" height="131.5"/><rect x="1309" y="542" width="1" height="173.5"/><rect x="1326" y="526" width="1" height="189.5"/><rect x="1342" y="557" width="1" height="158.5"/><rect x="1358" y="573" width="1" height="142.5"/><rect x="1374" y="607" width="1" height="108.5"/><rect x="1390" y="623" width="1" height="92.5"/><rect x="1406" y="638" width="1" height="77.5"/><rect x="1422" y="661" width="1" height="54.5"/><rect x="1438" y="690" width="1" height="25.5"/><rect x="1454" y="690" width="1" height="25.5"/></g>
<g fill="#256525" fill-opacity="0.15"><rect x="1060" y="706" width="1" height="9.5"/><rect x="1078" y="706" width="1" height="9.5"/><rect x="1097" y="697" width="1" height="18.5"/><rect x="1116" y="697" width="1" height="18.5"/><rect x="1134" y="704" width="1" height="11.5"/><rect x="1153" y="704" width="1" height="11.5"/><rect x="1171" y="698" width="1" height="17.5"/><rect x="1190" y="698" width="1" height="17.5"/><rect x="1209" y="698" width="1" height="17.5"/><rect x="1227" y="607" width="1" height="108.5"/><rect x="1246" y="607" width="1" height="108.5"/><rect x="1264" y="605" width="1" height="110.5"/><rect x="1283" y="605" width="1" height="110.5"/><rect x="1302" y="592" width="1" height="123.5"/><rect x="1320" y="508" width="1" height="207.5"/><rect x="1339" y="529" width="1" height="186.5"/><rect x="1357" y="553" width="1" height="162.5"/><rect x="1376" y="598" width="1" height="117.5"/><rect x="1395" y="628" width="1" height="87.5"/><rect x="1413" y="655" width="1" height="60.5"/><rect x="1432" y="679" width="1" height="36.5"/><rect x="1450" y="695" width="1" height="20.5"/></g>
<g fill="#0f0f8e" fill-opacity="0.15"><rect x="1091" y="669" width="1" height="46.5"/><rect x="1109" y="642" width="1" height="73.5"/><rect x="1126" y="642" width="1" height="73.5"/><rect x="1144" y="651" width="1" height="64.5"/><rect x="1161" y="651" width="1" height="64.5"/><rect x="1178" y="593" width="1" height="122.5"/><rect x="1231" y="702" width="1" height="13.5"/><rect x="1248" y="702" width="1" height="13.5"/><rect x="1265" y="676" width="1" height="39.5"/><rect x="1283" y="676" width="1" height="39.5"/><rect x="1300" y="666" width="1" height="49.5"/><rect x="1318" y="640" width="1" height="75.5"/><rect x="1335" y="641" width="1" height="74.5"/><rect x="1352" y="662" width="1" height="53.5"/><rect x="1370" y="682" width="1" height="33.5"/><rect x="1387" y="685" width="1" height="30.5"/><rect x="1405" y="692" width="1" height="23.5"/><rect x="1422" y="700" width="1" height="15.5"/><rect x="1439" y="702" width="1" height="13.5"/><rect x="1457" y="702" width="1" height="13.5"/></g>
<path d="M1047 700.9 L1048.5 700.72 L1050 700.53 L1051.5 700.35 L1053 700.17 L1054.5 699.98 L1056 699.79 L1057.5 699.59 L1059 699.39 L1060.5 699.18 L1062 698.97 L1063.5 698.74 L1065 698.51 L1066.5 698.27 L1068 698.01 L1069.5 697.75 L1071 697.47 L1072.5 697.17 L1074 696.86 L1075.5 696.54 L1077 696.2 L1078.5 695.84 L1080 695.46 L1081.5 695.06 L1083 694.65 L1084.5 694.21 L1086 693.75 L1087.5 693.27 L1089 692.76 L1090.5 692.24 L1092 691.7 L1093.5 691.14 L1095 690.58 L1096.5 690 L1098 689.42 L1099.5 688.83 L1101 688.23 L1102.5 687.64 L1104 687.04 L1105.5 686.45 L1107 685.87 L1108.5 685.29 L1110 684.72 L1111.5 684.16 L1113 683.62 L1114.5 683.09 L1116 682.58 L1117.5 682.09 L1119 681.63 L1120.5 681.21 L1122 680.83 L1123.5 680.51 L1125 680.25 L1126.5 680.07 L1128 679.96 L1129.5 679.94 L1131 680.02 L1132.5 680.2 L1134 680.5 L1135.5 680.92 L1137 681.43 L1138.5 682 L1140 682.6 L1141.5 683.21 L1143 683.79 L1144.5 684.32 L1146 684.78 L1147.5 685.16 L1149 685.48 L1150.5 685.73 L1152 685.92 L1153.5 686.06 L1155 686.14 L1156.5 686.17 L1158 686.16 L1159.5 686.1 L1161 686.01 L1162.5 685.87 L1164 685.71 L1165.5 685.52 L1167 685.3 L1168.5 685.06 L1170 684.8 L1171.5 684.52 L1173 684.23 L1174.5 683.94 L1176 683.63 L1177.5 683.3 L1179 682.93 L1180.5 682.49 L1182 681.99 L1183.5 681.4 L1185 680.7 L1186.5 679.88 L1188 678.93 L1189.5 677.82 L1191 676.55 L1192.5 675.1 L1194 673.41 L1195.5 671.38 L1197 668.88 L1198.5 665.81 L1200 662.12 L1201.5 657.89 L1203 653.21 L1204.5 648.17 L1206 642.85 L1207.5 637.36 L1209 631.8 L1210.5 626.25 L1212 620.83 L1213.5 615.62 L1215 610.73 L1216.5 606.25 L1218 602.25 L1219.5 598.75 L1221 595.75 L1222.5 593.27 L1224 591.29 L1225.5 589.73 L1227 588.51 L1228.5 587.56 L1230 586.78 L1231.5 586.11 L1233 585.46 L1234.5 584.75 L1236 583.95 L1237.5 583.05 L1239 582.07 L1240.5 581.03 L1242 579.93 L1243.5 578.81 L1245 577.69 L1246.5 576.6 L1248 575.55 L1249.5 574.57 L1251 573.69 L1252.5 572.94 L1254 572.33 L1255.5 571.9 L1257 571.66 L1258.5 571.65 L1260 571.83 L1261.5 572.18 L1263 572.64 L1264.5 573.19 L1266 573.77 L1267.5 574.36 L1269 574.93 L1270.5 575.47 L1272 575.95 L1273.5 576.35 L1275 576.66 L1276.5 576.85 L1278 576.9 L1279.5 576.8 L1281 576.5 L1282.5 575.98 L1284 575.2 L1285.5 574.11 L1287 572.68 L1288.5 570.88 L1290 568.73 L1291.5 566.32 L1293 563.71 L1294.5 560.97 L1296 558.19 L1297.5 555.41 L1299 552.66 L1300.5 549.94 L1302 547.28 L1303.5 544.69 L1305 542.2 L1306.5 539.81 L1308 537.54 L1309.5 535.41 L1311 533.44 L1312.5 531.64 L1314 530.03 L1315.5 528.63 L1317 527.45 L1318.5 526.51 L1320 525.82 L1321.5 525.4 L1323 525.23 L1324.5 525.3 L1326 525.6 L1327.5 526.13 L1329 526.86 L1330.5 527.8 L1332 528.92 L1333.5 530.22 L1335 531.7 L1336.5 533.33 L1338 535.12 L1339.5 537.06 L1341 539.12 L1342.5 541.29 L1344 543.54 L1345.5 545.86 L1347 548.22 L1348.5 550.6 L1350 552.97 L1351.5 555.32 L1353 557.63 L1354.5 559.87 L1356 562.03 L1357.5 564.14 L1359 566.23 L1360.5 568.31 L1362 570.41 L1363.5 572.55 L1365 574.73 L1366.5 576.94 L1368 579.18 L1369.5 581.45 L1371 583.72 L1372.5 586.01 L1374 588.31 L1375.5 590.6 L1377 592.89 L1378.5 595.16 L1380 597.42 L1381.5 599.65 L1383 601.86 L1384.5 604.03 L1386 606.16 L1387.5 608.25 L1389 610.29 L1390.5 612.3 L1392 614.26 L1393.5 616.2 L1395 618.1 L1396.5 619.97 L1398 621.82 L1399.5 623.64 L1401 625.45 L1402.5 627.23 L1404 629 L1405.5 630.76 L1407 632.51 L1408.5 634.26 L1410 636 L1411.5 637.74 L1413 639.48 L1414.5 641.21 L1416 642.94 L1417.5 644.66 L1419 646.38 L1420.5 648.09 L1422 649.78 L1423.5 651.47 L1425 653.14 L1426.5 654.81 L1428 656.45 L1429.5 658.08 L1431 659.69 L1432.5 661.28 L1434 662.86 L1435.5 664.41 L1437 665.93 L1438.5 667.44 L1440 668.92 L1441.5 670.37 L1443 671.79 L1444.5 673.18 L1446 674.55 L1447.5 675.88 L1449 677.17 L1450.5 678.44 L1452 679.66 L1453.5 680.85 L1455 682 L1456.5 683.11 L1457.8 684.04" fill="none" stroke="#ff0000" stroke-width="4.17" stroke-linejoin="round" stroke-linecap="butt"/>
<path d="M1047 697.74 L1048.5 698.38 L1050 698.93 L1051.5 699.4 L1053 699.78 L1054.5 700.09 L1056 700.32 L1057.5 700.48 L1059 700.57 L1060.5 700.59 L1062 700.55 L1063.5 700.44 L1065 700.28 L1066.5 700.05 L1068 699.78 L1069.5 699.45 L1071 699.07 L1072.5 698.64 L1074 698.18 L1075.5 697.67 L1077 697.12 L1078.5 696.54 L1080 695.92 L1081.5 695.28 L1083 694.6 L1084.5 693.91 L1086 693.19 L1087.5 692.45 L1089 691.69 L1090.5 690.93 L1092 690.16 L1093.5 689.38 L1095 688.61 L1096.5 687.84 L1098 687.08 L1099.5 686.34 L1101 685.61 L1102.5 684.9 L1104 684.22 L1105.5 683.57 L1107 682.95 L1108.5 682.37 L1110 681.83 L1111.5 681.34 L1113 680.9 L1114.5 680.51 L1116 680.19 L1117.5 679.92 L1119 679.72 L1120.5 679.6 L1122 679.56 L1123.5 679.6 L1125 679.74 L1126.5 679.97 L1128 680.31 L1129.5 680.76 L1131 681.33 L1132.5 682.02 L1134 682.82 L1135.5 683.7 L1137 684.64 L1138.5 685.58 L1140 686.51 L1141.5 687.38 L1143 688.17 L1144.5 688.86 L1146 689.46 L1147.5 689.97 L1149 690.39 L1150.5 690.73 L1152 690.98 L1153.5 691.17 L1155 691.28 L1156.5 691.31 L1158 691.29 L1159.5 691.19 L1161 691.04 L1162.5 690.83 L1164 690.57 L1165.5 690.25 L1167 689.89 L1168.5 689.49 L1170 689.04 L1171.5 688.56 L1173 688.03 L1174.5 687.47 L1176 686.88 L1177.5 686.25 L1179 685.58 L1180.5 684.87 L1182 684.13 L1183.5 683.36 L1185 682.55 L1186.5 681.7 L1188 680.82 L1189.5 679.89 L1191 678.88 L1192.5 677.73 L1194 676.39 L1195.5 674.8 L1197 672.9 L1198.5 670.66 L1200 668.02 L1201.5 664.91 L1203 661.3 L1204.5 657.23 L1206 652.8 L1207.5 648.09 L1209 643.21 L1210.5 638.25 L1212 633.32 L1213.5 628.5 L1215 623.89 L1216.5 619.54 L1218 615.46 L1219.5 611.67 L1221 608.18 L1222.5 604.99 L1224 602.09 L1225.5 599.48 L1227 597.13 L1228.5 595.06 L1230 593.23 L1231.5 591.65 L1233 590.31 L1234.5 589.19 L1236 588.28 L1237.5 587.58 L1239 587.08 L1240.5 586.77 L1242 586.64 L1243.5 586.67 L1245 586.86 L1246.5 587.19 L1248 587.64 L1249.5 588.19 L1251 588.82 L1252.5 589.51 L1254 590.25 L1255.5 591.01 L1257 591.78 L1258.5 592.55 L1260 593.28 L1261.5 593.96 L1263 594.58 L1264.5 595.11 L1266 595.54 L1267.5 595.84 L1269 596.01 L1270.5 596.01 L1272 595.85 L1273.5 595.51 L1275 595.01 L1276.5 594.36 L1278 593.56 L1279.5 592.62 L1281 591.52 L1282.5 590.23 L1284 588.7 L1285.5 586.91 L1287 584.81 L1288.5 582.37 L1290 579.59 L1291.5 576.51 L1293 573.17 L1294.5 569.61 L1296 565.9 L1297.5 562.06 L1299 558.15 L1300.5 554.22 L1302 550.31 L1303.5 546.46 L1305 542.72 L1306.5 539.12 L1308 535.67 L1309.5 532.39 L1311 529.31 L1312.5 526.45 L1314 523.82 L1315.5 521.46 L1317 519.38 L1318.5 517.59 L1320 516.13 L1321.5 514.98 L1323 514.12 L1324.5 513.5 L1326 513.07 L1327.5 512.81 L1329 512.67 L1330.5 512.67 L1332 512.84 L1333.5 513.2 L1335 513.78 L1336.5 514.61 L1338 515.69 L1339.5 517.03 L1341 518.57 L1342.5 520.29 L1344 522.16 L1345.5 524.14 L1347 526.22 L1348.5 528.38 L1350 530.62 L1351.5 532.93 L1353 535.3 L1354.5 537.73 L1356 540.2 L1357.5 542.72 L1359 545.27 L1360.5 547.85 L1362 550.44 L1363.5 553.05 L1365 555.66 L1366.5 558.27 L1368 560.87 L1369.5 563.45 L1371 566.02 L1372.5 568.58 L1374 571.13 L1375.5 573.69 L1377 576.26 L1378.5 578.83 L1380 581.43 L1381.5 584.04 L1383 586.68 L1384.5 589.36 L1386 592.06 L1387.5 594.79 L1389 597.54 L1390.5 600.29 L1392 603.04 L1393.5 605.79 L1395 608.51 L1396.5 611.22 L1398 613.89 L1399.5 616.51 L1401 619.1 L1402.5 621.65 L1404 624.17 L1405.5 626.64 L1407 629.09 L1408.5 631.5 L1410 633.87 L1411.5 636.22 L1413 638.54 L1414.5 640.82 L1416 643.09 L1417.5 645.32 L1419 647.53 L1420.5 649.72 L1422 651.87 L1423.5 653.99 L1425 656.08 L1426.5 658.14 L1428 660.16 L1429.5 662.15 L1431 664.1 L1432.5 666 L1434 667.87 L1435.5 669.7 L1437 671.48 L1438.5 673.22 L1440 674.92 L1441.5 676.56 L1443 678.16 L1444.5 679.71 L1446 681.2 L1447.5 682.65 L1449 684.04 L1450.5 685.37 L1452 686.65 L1453.5 687.86 L1455 689.02 L1456.5 690.12 L1457.8 691.02" fill="none" stroke="#008000" stroke-width="4.17" stroke-linejoin="round" stroke-linecap="butt"/>
<path d="M1047 660.76 L1048.5 661 L1050 661.12 L1051.5 661.12 L1053 660.99 L1054.5 660.73 L1056 660.33 L1057.5 659.79 L1059 659.11 L1060.5 658.28 L1062 657.29 L1063.5 656.15 L1065 654.84 L1066.5 653.37 L1068 651.73 L1069.5 649.92 L1071 647.92 L1072.5 645.74 L1074 643.37 L1075.5 640.82 L1077 638.06 L1078.5 635.11 L1080 631.95 L1081.5 628.59 L1083 625.05 L1084.5 621.36 L1086 617.57 L1087.5 613.7 L1089 609.78 L1090.5 605.85 L1092 601.94 L1093.5 598.08 L1095 594.31 L1096.5 590.66 L1098 587.16 L1099.5 583.84 L1101 580.73 L1102.5 577.88 L1104 575.31 L1105.5 573.02 L1107 571 L1108.5 569.24 L1110 567.71 L1111.5 566.4 L1113 565.28 L1114.5 564.35 L1116 563.58 L1117.5 562.96 L1119 562.47 L1120.5 562.09 L1122 561.8 L1123.5 561.59 L1125 561.43 L1126.5 561.32 L1128 561.23 L1129.5 561.14 L1131 561.05 L1132.5 560.92 L1134 560.74 L1135.5 560.51 L1137 560.21 L1138.5 559.84 L1140 559.4 L1141.5 558.88 L1143 558.29 L1144.5 557.62 L1146 556.86 L1147.5 556.01 L1149 555.07 L1150.5 554.04 L1152 552.91 L1153.5 551.68 L1155 550.35 L1156.5 548.91 L1158 547.37 L1159.5 545.79 L1161 544.21 L1162.5 542.69 L1164 541.29 L1165.5 540.06 L1167 539.06 L1168.5 538.35 L1170 537.96 L1171.5 537.97 L1173 538.43 L1174.5 539.39 L1176 540.91 L1177.5 543.03 L1179 545.73 L1180.5 548.92 L1182 552.54 L1183.5 556.51 L1185 560.74 L1186.5 565.16 L1188 569.68 L1189.5 574.24 L1191 578.76 L1192.5 583.16 L1194 587.66 L1195.5 592.68 L1197 598.34 L1198.5 604.23 L1200 609.87 L1201.5 614.93 L1203 619.38 L1204.5 623.24 L1206 626.56 L1207.5 629.35 L1209 631.65 L1210.5 633.49 L1212 634.9 L1213.5 635.9 L1215 636.54 L1216.5 636.84 L1218 636.83 L1219.5 636.54 L1221 636 L1222.5 635.24 L1224 634.3 L1225.5 633.2 L1227 631.97 L1228.5 630.64 L1230 629.25 L1231.5 627.82 L1233 626.38 L1234.5 624.96 L1236 623.6 L1237.5 622.32 L1239 621.14 L1240.5 620.11 L1242 619.25 L1243.5 618.58 L1245 618.12 L1246.5 617.87 L1248 617.83 L1249.5 618.01 L1251 618.42 L1252.5 619.06 L1254 619.93 L1255.5 621.05 L1257 622.42 L1258.5 624.02 L1260 625.83 L1261.5 627.79 L1263 629.88 L1264.5 632.06 L1266 634.31 L1267.5 636.57 L1269 638.82 L1270.5 641.02 L1272 643.14 L1273.5 645.15 L1275 647 L1276.5 648.7 L1278 650.22 L1279.5 651.54 L1281 652.66 L1282.5 653.55 L1284 654.23 L1285.5 654.71 L1287 655 L1288.5 655.13 L1290 655.09 L1291.5 654.92 L1293 654.62 L1294.5 654.21 L1296 653.7 L1297.5 653.11 L1299 652.46 L1300.5 651.76 L1302 651.02 L1303.5 650.26 L1305 649.5 L1306.5 648.74 L1308 648.01 L1309.5 647.31 L1311 646.66 L1312.5 646.05 L1314 645.48 L1315.5 644.97 L1317 644.51 L1318.5 644.1 L1320 643.76 L1321.5 643.48 L1323 643.26 L1324.5 643.12 L1326 643.04 L1327.5 643.05 L1329 643.13 L1330.5 643.3 L1332 643.55 L1333.5 643.9 L1335 644.33 L1336.5 644.86 L1338 645.49 L1339.5 646.21 L1341 647.02 L1342.5 647.91 L1344 648.87 L1345.5 649.9 L1347 650.99 L1348.5 652.14 L1350 653.33 L1351.5 654.57 L1353 655.84 L1354.5 657.14 L1356 658.46 L1357.5 659.8 L1359 661.14 L1360.5 662.49 L1362 663.84 L1363.5 665.18 L1365 666.5 L1366.5 667.8 L1368 669.07 L1369.5 670.31 L1371 671.5 L1372.5 672.65 L1374 673.75 L1375.5 674.79 L1377 675.79 L1378.5 676.75 L1380 677.66 L1381.5 678.53 L1383 679.37 L1384.5 680.17 L1386 680.93 L1387.5 681.66 L1389 682.37 L1390.5 683.04 L1392 683.69 L1393.5 684.32 L1395 684.93 L1396.5 685.52 L1398 686.1 L1399.5 686.66 L1401 687.2 L1402.5 687.74 L1404 688.27 L1405.5 688.79 L1407 689.29 L1408.5 689.79 L1410 690.27 L1411.5 690.74 L1413 691.21 L1414.5 691.66 L1416 692.1 L1417.5 692.53 L1419 692.95 L1420.5 693.37 L1422 693.77 L1423.5 694.16 L1425 694.54 L1426.5 694.91 L1428 695.27 L1429.5 695.62 L1431 695.96 L1432.5 696.29 L1434 696.61 L1435.5 696.92 L1437 697.22 L1438.5 697.51 L1440 697.79 L1441.5 698.06 L1443 698.32 L1444.5 698.58 L1446 698.82 L1447.5 699.05 L1449 699.28 L1450.5 699.49 L1452 699.69 L1453.5 699.89 L1455 700.08 L1456.5 700.25 L1457.8 700.4" fill="none" stroke="#0000ff" stroke-width="4.17" stroke-linejoin="round" stroke-linecap="butt"/>
</g>
<rect x="1046.5" y="403.5" width="411.3" height="310" fill="none" stroke="#000" stroke-width="1.11"/>
<path d="M1072 713.5 v4.86 M1123.5 713.5 v4.86 M1175 713.5 v4.86 M1226.5 713.5 v4.86 M1278 713.5 v4.86 M1329.5 713.5 v4.86 M1381 713.5 v4.86 M1432.5 713.5 v4.86 M1046.5 713.5 h-4.86 M1046.5 678.5 h-4.86 M1046.5 643.5 h-4.86 M1046.5 608.5 h-4.86 M1046.5 573.5 h-4.86 M1046.5 538.5 h-4.86 M1046.5 503.5 h-4.86 M1046.5 468.5 h-4.86 M1046.5 433.5 h-4.86" stroke="#000" stroke-width="1.11" fill="none"/>
<g font-size="13.89" text-anchor="middle">
<text x="1072" y="733.9">−2.0</text>
<text x="1123.5" y="733.9">−1.5</text>
<text x="1175" y="733.9">−1.0</text>
<text x="1226.5" y="733.9">−0.5</text>
<text x="1278" y="733.9">0.0</text>
<text x="1329.5" y="733.9">0.5</text>
<text x="1381" y="733.9">1.0</text>
<text x="1432.5" y="733.9">1.5</text>
</g>
<g font-size="13.89" text-anchor="end">
<text x="1036.78" y="718.6">0.0</text>
<text x="1036.78" y="683.6">0.1</text>
<text x="1036.78" y="648.6">0.2</text>
<text x="1036.78" y="613.6">0.3</text>
<text x="1036.78" y="578.6">0.4</text>
<text x="1036.78" y="543.6">0.5</text>
<text x="1036.78" y="508.6">0.6</text>
<text x="1036.78" y="473.6">0.7</text>
<text x="1036.78" y="438.6">0.8</text>
</g>
<text font-size="13.89" text-anchor="middle" transform="translate(1006 558.5) rotate(-90)">Density</text>
<text font-size="16.67" text-anchor="middle" x="1252.15" y="394.9">in_aot</text>
<rect x="1359.8" y="410.3" width="91.1" height="65.9" rx="2.8" fill="#fff" fill-opacity="0.8" stroke="#ccc" stroke-width="1.11"/>
<rect x="1364.3" y="417" width="27.8" height="9.7" fill="#ff0000" fill-opacity="0.2"/>
<text font-size="13.89" x="1404" y="426.6">NREM</text>
<rect x="1364.3" y="438.1" width="27.8" height="9.7" fill="#008000" fill-opacity="0.2"/>
<text font-size="13.89" x="1404" y="446.8">REM</text>
<rect x="1364.3" y="458.1" width="27.8" height="9.7" fill="#0000ff" fill-opacity="0.2"/>
<text font-size="13.89" x="1404" y="467.8">Sleep</text>
</svg>
</body></html>
